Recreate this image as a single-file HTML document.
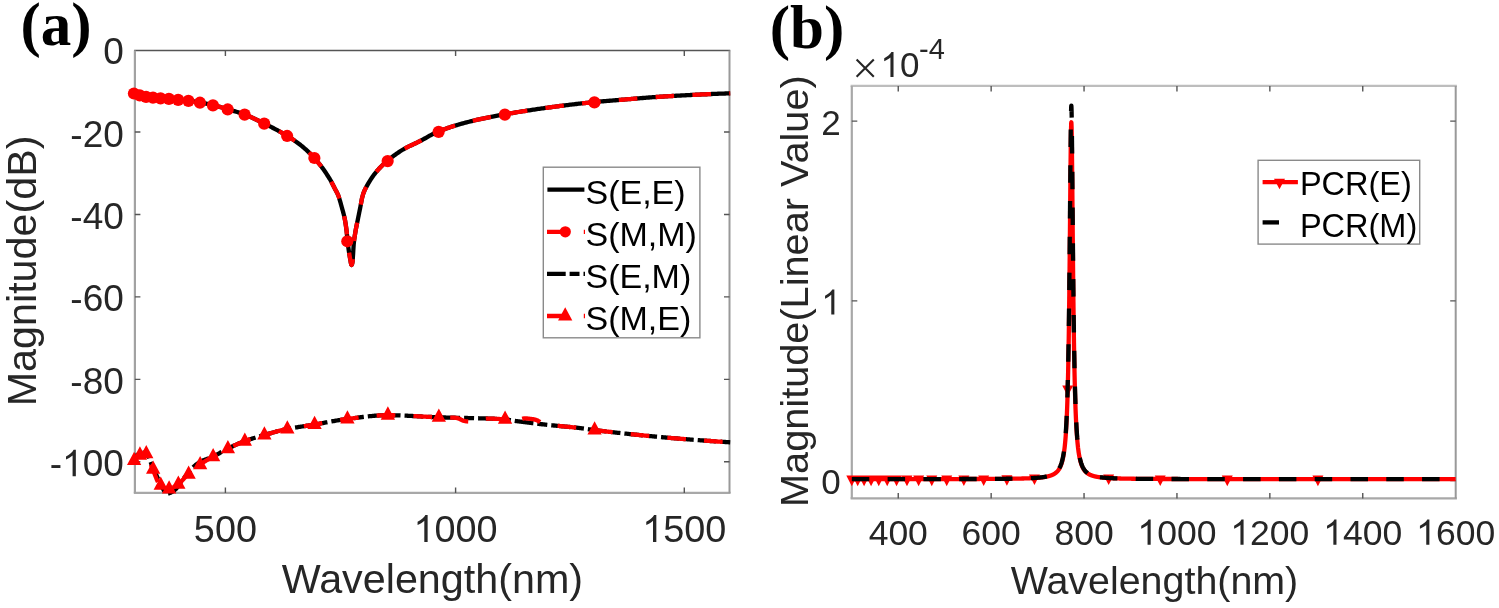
<!DOCTYPE html>
<html><head><meta charset="utf-8"><style>
html,body{margin:0;padding:0;background:#fff;}
body{width:1499px;height:608px;overflow:hidden;}
svg{display:block;will-change:transform;}
</style></head><body>
<svg width="1499" height="608" viewBox="0 0 1499 608">
<defs><clipPath id="ca"><rect x="130" y="47" width="603" height="449"/></clipPath><clipPath id="cb"><rect x="849" y="84" width="609" height="417"/></clipPath></defs>
<path d="M134.9,50.5H729.5" stroke="#555" stroke-width="1.5" stroke-linecap="square"/>
<path d="M134.9,492.9H729.5" stroke="#a8a8a8" stroke-width="2.2" stroke-linecap="square"/>
<path d="M134.9,50.5V492.9" stroke="#a2a2a2" stroke-width="2.2"/>
<path d="M729.5,50.5V492.9" stroke="#999" stroke-width="2.0"/>
<path d="M225.4,492.9v-5.5M225.4,50.5v5.5M455.6,492.9v-5.5M455.6,50.5v5.5M684.3,492.9v-5.5M684.3,50.5v5.5M134.9,132.03h5.5M729.5,132.03h-5.5M134.9,214.47h5.5M729.5,214.47h-5.5M134.9,296.9h5.5M729.5,296.9h-5.5M134.9,379.34h5.5M729.5,379.34h-5.5M134.9,461.77h5.5M729.5,461.77h-5.5" stroke="#555" stroke-width="1.4" fill="none"/>
<path d="M851.8,85.9H1455.7" stroke="#bdbdbd" stroke-width="2.4" stroke-linecap="square"/>
<path d="M851.8,498.4H1455.7" stroke="#a8a8a8" stroke-width="2.4" stroke-linecap="square"/>
<path d="M851.8,85.9V498.4" stroke="#a8a8a8" stroke-width="2.2"/>
<path d="M1455.7,85.9V498.4" stroke="#999" stroke-width="2.0"/>
<path d="M898.25,498.4v-5.5M898.25,85.9v5.5M991.15,498.4v-5.5M991.15,85.9v5.5M1084.05,498.4v-5.5M1084.05,85.9v5.5M1176.95,498.4v-5.5M1176.95,85.9v5.5M1269.85,498.4v-5.5M1269.85,85.9v5.5M1362.75,498.4v-5.5M1362.75,85.9v5.5M851.8,480.6h5.5M1455.7,480.6h-5.5M851.8,300.85h5.5M1455.7,300.85h-5.5M851.8,121.1h5.5M1455.7,121.1h-5.5" stroke="#555" stroke-width="1.4" fill="none"/>
<g clip-path="url(#ca)" fill="none" stroke-linejoin="round">
<path d="M133.6,93.2 L134.64,93.59 L135.67,93.96 L136.71,94.31 L137.75,94.64 L138.79,94.94 L139.82,95.22 L140.86,95.5 L141.9,95.76 L142.93,96.01 L143.97,96.23 L145.01,96.43 L146.05,96.61 L147.08,96.76 L148.12,96.89 L149.16,97.01 L150.19,97.12 L151.23,97.23 L152.27,97.33 L153.31,97.43 L154.34,97.53 L155.38,97.62 L156.42,97.71 L157.46,97.8 L158.49,97.88 L159.53,97.96 L160.57,98.04 L161.6,98.11 L162.64,98.18 L163.68,98.24 L164.72,98.3 L165.75,98.37 L166.79,98.44 L167.83,98.51 L168.86,98.59 L169.9,98.68 L170.94,98.78 L171.98,98.9 L173.01,99.02 L174.05,99.14 L175.09,99.27 L176.12,99.39 L177.16,99.51 L178.2,99.62 L179.24,99.72 L180.27,99.82 L181.31,99.91 L182.35,100 L183.38,100.09 L184.42,100.19 L185.46,100.29 L186.5,100.39 L187.53,100.5 L188.57,100.62 L189.61,100.75 L190.65,100.9 L191.68,101.05 L192.72,101.21 L193.76,101.38 L194.79,101.55 L195.83,101.73 L196.87,101.91 L197.91,102.1 L198.94,102.28 L199.98,102.47 L201.02,102.66 L202.05,102.85 L203.09,103.04 L204.13,103.24 L205.17,103.45 L206.2,103.65 L207.24,103.87 L208.28,104.08 L209.31,104.31 L210.35,104.53 L211.39,104.77 L212.43,105.01 L213.46,105.25 L214.5,105.51 L215.54,105.77 L216.57,106.05 L217.61,106.32 L218.65,106.61 L219.69,106.9 L220.72,107.19 L221.76,107.49 L222.8,107.79 L223.84,108.1 L224.87,108.4 L225.91,108.71 L226.95,109.01 L227.98,109.31 L229.02,109.61 L230.06,109.91 L231.1,110.21 L232.13,110.51 L233.17,110.81 L234.21,111.11 L235.24,111.41 L236.28,111.72 L237.32,112.04 L238.36,112.36 L239.39,112.69 L240.43,113.02 L241.47,113.37 L242.5,113.72 L243.54,114.09 L244.58,114.47 L245.62,114.86 L246.65,115.27 L247.69,115.69 L248.73,116.12 L249.76,116.57 L250.8,117.03 L251.84,117.49 L252.88,117.97 L253.91,118.45 L254.95,118.95 L255.99,119.45 L257.03,119.95 L258.06,120.46 L259.1,120.97 L260.14,121.48 L261.17,122 L262.21,122.51 L263.25,123.03 L264.29,123.54 L265.32,124.06 L266.36,124.57 L267.4,125.09 L268.43,125.61 L269.47,126.14 L270.51,126.66 L271.55,127.19 L272.58,127.73 L273.62,128.27 L274.66,128.81 L275.69,129.36 L276.73,129.92 L277.77,130.48 L278.81,131.04 L279.84,131.61 L280.88,132.19 L281.92,132.78 L282.95,133.37 L283.99,133.97 L285.03,134.58 L286.07,135.19 L287.1,135.82 L288.14,136.45 L289.18,137.1 L290.22,137.75 L291.25,138.41 L292.29,139.08 L293.33,139.77 L294.36,140.48 L295.4,141.19 L296.44,141.93 L297.48,142.68 L298.51,143.46 L299.55,144.25 L300.59,145.06 L301.62,145.9 L302.66,146.75 L303.7,147.62 L304.74,148.52 L305.77,149.44 L306.81,150.38 L307.85,151.34 L308.88,152.33 L309.92,153.34 L310.96,154.38 L312,155.45 L313.03,156.55 L314.07,157.68 L315.11,158.84 L316.14,160.03 L317.18,161.25 L318.22,162.51 L319.26,163.8 L320.29,165.13 L321.33,166.49 L322.37,167.89 L323.41,169.33 L324.44,170.8 L325.48,172.32 L326.52,173.87 L327.55,175.46 L328.59,177.09 L329.63,178.76 L330.67,180.52 L331.7,182.46 L332.74,184.51 L333.78,186.58 L334.81,188.59 L335.85,190.46 L336.89,192.37 L337.93,194.58 L338.96,197.38 L340,200.77 L340.18,201.42 L340.37,202.08 L340.55,202.74 L340.74,203.41 L340.92,204.09 L341.11,204.77 L341.29,205.45 L341.48,206.13 L341.66,206.8 L341.85,207.48 L342.03,208.14 L342.22,208.8 L342.4,209.46 L342.59,210.12 L342.77,210.78 L342.96,211.45 L343.14,212.13 L343.33,212.82 L343.51,213.53 L343.7,214.26 L343.88,215.01 L344.07,215.79 L344.25,216.6 L344.44,217.44 L344.62,218.31 L344.81,219.22 L344.99,220.18 L345.18,221.2 L345.36,222.29 L345.55,223.44 L345.73,224.65 L345.92,225.93 L346.1,227.26 L346.29,228.66 L346.47,230.11 L346.66,231.63 L346.84,233.28 L347.03,235.21 L347.21,237.26 L347.39,239.29 L347.58,241.12 L347.76,242.74 L347.95,244.28 L348.13,245.76 L348.32,247.18 L348.5,248.53 L348.69,249.84 L348.87,251.1 L349.06,252.32 L349.24,253.5 L349.43,254.64 L349.61,255.75 L349.8,256.82 L349.98,257.84 L350.17,258.83 L350.35,259.85 L350.54,260.97 L350.72,262.1 L350.91,263.16 L351.09,264.06 L351.28,264.7 L351.46,264.99 L351.65,264.92 L351.83,264.61 L352.02,264.09 L352.2,263.4 L352.39,262.57 L352.57,261.51 L352.76,259.35 L352.94,256.47 L353.13,253.61 L353.31,250.5 L353.5,247.26 L353.68,244.61 L353.87,242.72 L354.05,241.03 L354.24,239.51 L354.42,238.13 L354.61,236.86 L354.79,235.67 L354.97,234.54 L355.16,233.44 L355.34,232.34 L355.53,231.23 L355.71,230.16 L355.9,229.14 L356.08,228.15 L356.27,227.19 L356.45,226.26 L356.64,225.35 L356.82,224.45 L357.01,223.56 L357.19,222.67 L357.38,221.78 L357.56,220.88 L357.75,219.96 L357.93,219.03 L358.12,218.1 L358.3,217.18 L358.49,216.26 L358.67,215.34 L358.86,214.42 L359.04,213.51 L359.23,212.59 L359.41,211.68 L359.6,210.77 L359.78,209.86 L359.97,208.95 L360.15,208.03 L360.34,207.12 L360.52,206.18 L360.71,205.2 L360.89,204.2 L361.08,203.18 L361.26,202.17 L361.45,201.16 L361.63,200.17 L361.82,199.2 L362,198.28 L363.23,193.7 L364.46,190.62 L365.69,188.13 L366.93,185.87 L368.16,183.67 L369.39,181.58 L370.62,179.61 L371.85,177.75 L373.08,175.99 L374.31,174.33 L375.55,172.76 L376.78,171.27 L378.01,169.85 L379.24,168.5 L380.47,167.2 L381.7,165.96 L382.93,164.77 L384.17,163.62 L385.4,162.51 L386.63,161.44 L387.86,160.4 L389.09,159.38 L390.32,158.39 L391.55,157.42 L392.79,156.47 L394.02,155.55 L395.25,154.65 L396.48,153.77 L397.71,152.92 L398.94,152.1 L400.17,151.3 L401.41,150.52 L402.64,149.77 L403.87,149.04 L405.1,148.35 L406.33,147.69 L407.56,147.05 L408.79,146.44 L410.03,145.84 L411.26,145.25 L412.49,144.68 L413.72,144.11 L414.95,143.54 L416.18,142.96 L417.41,142.38 L418.65,141.78 L419.88,141.16 L421.11,140.52 L422.34,139.86 L423.57,139.18 L424.8,138.5 L426.03,137.8 L427.27,137.11 L428.5,136.41 L429.73,135.73 L430.96,135.05 L432.19,134.4 L433.42,133.76 L434.65,133.15 L435.89,132.57 L437.12,132.03 L438.35,131.52 L439.58,131.03 L440.81,130.55 L442.04,130.08 L443.27,129.62 L444.51,129.17 L445.74,128.72 L446.97,128.29 L448.2,127.86 L449.43,127.45 L450.66,127.04 L451.89,126.64 L453.13,126.24 L454.36,125.86 L455.59,125.48 L456.82,125.11 L458.05,124.74 L459.28,124.38 L460.52,124.03 L461.75,123.68 L462.98,123.34 L464.21,123.01 L465.44,122.68 L466.67,122.35 L467.9,122.03 L469.14,121.72 L470.37,121.41 L471.6,121.1 L472.83,120.8 L474.06,120.51 L475.29,120.22 L476.52,119.93 L477.76,119.65 L478.99,119.37 L480.22,119.09 L481.45,118.82 L482.68,118.56 L483.91,118.3 L485.14,118.04 L486.38,117.78 L487.61,117.53 L488.84,117.28 L490.07,117.04 L491.3,116.8 L492.53,116.56 L493.76,116.32 L495,116.09 L496.23,115.85 L497.46,115.62 L498.69,115.4 L499.92,115.17 L501.15,114.95 L502.38,114.73 L503.62,114.51 L504.85,114.29 L506.08,114.08 L507.31,113.86 L508.54,113.65 L509.77,113.44 L511,113.23 L512.24,113.02 L513.47,112.81 L514.7,112.61 L515.93,112.4 L517.16,112.2 L518.39,112 L519.62,111.8 L520.86,111.6 L522.09,111.41 L523.32,111.21 L524.55,111.02 L525.78,110.83 L527.01,110.64 L528.24,110.45 L529.48,110.26 L530.71,110.07 L531.94,109.89 L533.17,109.71 L534.4,109.52 L535.63,109.34 L536.86,109.16 L538.1,108.98 L539.33,108.81 L540.56,108.63 L541.79,108.46 L543.02,108.28 L544.25,108.11 L545.48,107.94 L546.72,107.77 L547.95,107.6 L549.18,107.43 L550.41,107.26 L551.64,107.1 L552.87,106.93 L554.1,106.77 L555.34,106.61 L556.57,106.45 L557.8,106.28 L559.03,106.12 L560.26,105.97 L561.49,105.81 L562.72,105.65 L563.96,105.5 L565.19,105.34 L566.42,105.19 L567.65,105.04 L568.88,104.88 L570.11,104.73 L571.34,104.58 L572.58,104.44 L573.81,104.29 L575.04,104.14 L576.27,104 L577.5,103.86 L578.73,103.72 L579.96,103.58 L581.2,103.44 L582.43,103.3 L583.66,103.17 L584.89,103.03 L586.12,102.9 L587.35,102.77 L588.58,102.64 L589.82,102.51 L591.05,102.39 L592.28,102.27 L593.51,102.14 L594.74,102.02 L595.97,101.91 L597.2,101.79 L598.44,101.68 L599.67,101.57 L600.9,101.46 L602.13,101.36 L603.36,101.25 L604.59,101.15 L605.82,101.05 L607.06,100.95 L608.29,100.85 L609.52,100.75 L610.75,100.65 L611.98,100.55 L613.21,100.45 L614.44,100.35 L615.68,100.25 L616.91,100.15 L618.14,100.05 L619.37,99.95 L620.6,99.85 L621.83,99.75 L623.06,99.64 L624.3,99.54 L625.53,99.44 L626.76,99.33 L627.99,99.23 L629.22,99.12 L630.45,99.02 L631.68,98.91 L632.92,98.81 L634.15,98.7 L635.38,98.6 L636.61,98.49 L637.84,98.39 L639.07,98.29 L640.31,98.19 L641.54,98.09 L642.77,97.99 L644,97.89 L645.23,97.79 L646.46,97.69 L647.69,97.6 L648.93,97.5 L650.16,97.41 L651.39,97.32 L652.62,97.23 L653.85,97.15 L655.08,97.06 L656.31,96.98 L657.55,96.9 L658.78,96.82 L660.01,96.74 L661.24,96.66 L662.47,96.58 L663.7,96.5 L664.93,96.43 L666.17,96.35 L667.4,96.28 L668.63,96.2 L669.86,96.13 L671.09,96.06 L672.32,95.98 L673.55,95.91 L674.79,95.84 L676.02,95.77 L677.25,95.7 L678.48,95.64 L679.71,95.57 L680.94,95.5 L682.17,95.44 L683.41,95.37 L684.64,95.31 L685.87,95.24 L687.1,95.18 L688.33,95.12 L689.56,95.06 L690.79,94.99 L692.03,94.93 L693.26,94.87 L694.49,94.81 L695.72,94.75 L696.95,94.69 L698.18,94.64 L699.41,94.58 L700.65,94.52 L701.88,94.46 L703.11,94.41 L704.34,94.35 L705.57,94.29 L706.8,94.24 L708.03,94.19 L709.27,94.13 L710.5,94.08 L711.73,94.02 L712.96,93.97 L714.19,93.92 L715.42,93.87 L716.65,93.82 L717.89,93.77 L719.12,93.72 L720.35,93.67 L721.58,93.62 L722.81,93.57 L724.04,93.53 L725.27,93.48 L726.51,93.43 L727.74,93.39 L728.97,93.34 L730.2,93.3" stroke="#000" stroke-width="4.3"/>
<path d="M133.6,459.5 L134.6,458.1 L135.59,456.79 L136.59,455.62 L137.58,454.65 L138.58,453.94 L139.58,453.55 L140.57,453.3 L141.57,453.07 L142.56,452.89 L143.56,452.74 L144.56,452.65 L145.55,452.6 L146.55,452.93 L147.54,454.25 L148.54,456.33 L149.54,458.89 L150.53,461.68 L151.53,464.42 L152.52,466.84 L153.52,468.98 L154.52,471.14 L155.51,473.33 L156.51,475.51 L157.5,477.67 L158.5,479.79 L159.5,481.87 L160.49,483.89 L161.49,485.99 L162.48,488.05 L163.48,489.8 L164.48,491.07 L165.47,492.23 L166.47,493.12 L167.46,493.5 L168.46,493.39 L169.46,493.09 L170.45,492.68 L171.45,492.22 L172.44,491.7 L173.44,491.03 L174.44,490.23 L175.43,489.34 L176.43,488.37 L177.42,487.26 L178.42,485.9 L179.42,484.38 L180.41,482.82 L181.41,481.32 L182.4,479.97 L183.4,478.7 L184.4,477.46 L185.39,476.25 L186.39,475.06 L187.38,473.88 L188.38,472.71 L189.38,471.51 L190.37,470.31 L191.37,469.13 L192.36,468.04 L193.36,467.05 L194.36,466.13 L195.35,465.24 L196.35,464.4 L197.34,463.62 L198.34,462.9 L199.34,462.27 L200.33,461.71 L201.33,461.21 L202.32,460.76 L203.32,460.34 L204.32,459.95 L205.31,459.58 L206.31,459.22 L207.3,458.87 L208.3,458.52 L209.3,458.16 L210.29,457.79 L211.29,457.39 L212.28,456.96 L213.28,456.5 L214.28,456.01 L215.27,455.49 L216.27,454.96 L217.26,454.41 L218.26,453.85 L219.26,453.29 L220.25,452.72 L221.25,452.14 L222.24,451.57 L223.24,451.01 L224.24,450.45 L225.23,449.91 L226.23,449.39 L227.22,448.89 L228.22,448.4 L229.22,447.92 L230.21,447.44 L231.21,446.96 L232.2,446.49 L233.2,446.02 L234.2,445.56 L235.19,445.1 L236.19,444.65 L237.18,444.21 L238.18,443.78 L239.18,443.35 L240.17,442.93 L241.17,442.52 L242.16,442.12 L243.16,441.74 L244.16,441.36 L245.15,440.99 L246.15,440.63 L247.14,440.28 L248.14,439.94 L249.14,439.6 L250.13,439.27 L251.13,438.94 L252.12,438.62 L253.12,438.3 L254.12,437.99 L255.11,437.69 L256.11,437.38 L257.1,437.08 L258.1,436.79 L259.1,436.49 L260.09,436.2 L261.09,435.91 L262.08,435.62 L263.08,435.34 L264.08,435.05 L265.07,434.76 L266.07,434.48 L267.06,434.19 L268.06,433.91 L269.06,433.62 L270.05,433.34 L271.05,433.06 L272.04,432.78 L273.04,432.5 L274.04,432.22 L275.03,431.95 L276.03,431.69 L277.02,431.42 L278.02,431.16 L279.02,430.91 L280.01,430.66 L281.01,430.41 L282,430.17 L283,429.94 L283.99,429.71 L284.99,429.49 L285.99,429.28 L286.98,429.07 L287.98,428.87 L288.97,428.68 L289.97,428.49 L290.97,428.31 L291.96,428.13 L292.96,427.95 L293.95,427.78 L294.95,427.61 L295.95,427.45 L296.94,427.28 L297.94,427.12 L298.93,426.97 L299.93,426.81 L300.93,426.66 L301.92,426.5 L302.92,426.35 L303.91,426.2 L304.91,426.05 L305.91,425.89 L306.9,425.74 L307.9,425.59 L308.89,425.43 L309.89,425.28 L310.89,425.12 L311.88,424.96 L312.88,424.8 L313.87,424.63 L314.87,424.47 L315.87,424.3 L316.86,424.12 L317.86,423.95 L318.85,423.77 L319.85,423.59 L320.85,423.41 L321.84,423.22 L322.84,423.04 L323.83,422.85 L324.83,422.67 L325.83,422.48 L326.82,422.3 L327.82,422.11 L328.81,421.93 L329.81,421.74 L330.81,421.56 L331.8,421.38 L332.8,421.2 L333.79,421.02 L334.79,420.85 L335.79,420.67 L336.78,420.5 L337.78,420.34 L338.77,420.17 L339.77,420.01 L340.77,419.86 L341.76,419.71 L342.76,419.56 L343.75,419.42 L344.75,419.28 L345.75,419.15 L346.74,419.02 L347.74,418.9 L348.73,418.78 L349.73,418.65 L350.73,418.53 L351.72,418.4 L352.72,418.27 L353.71,418.14 L354.71,418.01 L355.71,417.88 L356.7,417.76 L357.7,417.63 L358.69,417.5 L359.69,417.37 L360.69,417.25 L361.68,417.13 L362.68,417 L363.67,416.88 L364.67,416.77 L365.67,416.65 L366.66,416.54 L367.66,416.43 L368.65,416.32 L369.65,416.22 L370.65,416.12 L371.64,416.02 L372.64,415.93 L373.63,415.84 L374.63,415.76 L375.63,415.68 L376.62,415.61 L377.62,415.54 L378.61,415.48 L379.61,415.42 L380.61,415.37 L381.6,415.32 L382.6,415.29 L383.59,415.25 L384.59,415.23 L385.59,415.21 L386.58,415.2 L387.58,415.2 L388.57,415.2 L389.57,415.21 L390.57,415.22 L391.56,415.23 L392.56,415.24 L393.55,415.26 L394.55,415.28 L395.55,415.31 L396.54,415.33 L397.54,415.36 L398.53,415.39 L399.53,415.42 L400.53,415.46 L401.52,415.5 L402.52,415.53 L403.51,415.58 L404.51,415.62 L405.51,415.66 L406.5,415.71 L407.5,415.75 L408.49,415.8 L409.49,415.85 L410.49,415.9 L411.48,415.95 L412.48,416.01 L413.47,416.06 L414.47,416.11 L415.47,416.17 L416.46,416.22 L417.46,416.28 L418.45,416.33 L419.45,416.39 L420.45,416.44 L421.44,416.5 L422.44,416.55 L423.43,416.6 L424.43,416.66 L425.43,416.71 L426.42,416.76 L427.42,416.82 L428.41,416.87 L429.41,416.92 L430.41,416.96 L431.4,417.01 L432.4,417.06 L433.39,417.1 L434.39,417.15 L435.39,417.19 L436.38,417.23 L437.38,417.27 L438.37,417.3 L439.37,417.34 L440.37,417.37 L441.36,417.4 L442.36,417.43 L443.35,417.46 L444.35,417.49 L445.35,417.52 L446.34,417.55 L447.34,417.57 L448.33,417.6 L449.33,417.62 L450.33,417.65 L451.32,417.67 L452.32,417.7 L453.31,417.72 L454.31,417.74 L455.31,417.76 L456.3,417.78 L457.3,417.8 L458.29,417.83 L459.29,417.85 L460.29,417.87 L461.28,417.89 L462.28,417.91 L463.27,417.93 L464.27,417.95 L465.27,417.97 L466.26,417.99 L467.26,418.01 L468.25,418.03 L469.25,418.05 L470.25,418.07 L471.24,418.09 L472.24,418.11 L473.23,418.13 L474.23,418.16 L475.23,418.18 L476.22,418.2 L477.22,418.23 L478.21,418.25 L479.21,418.28 L480.21,418.3 L481.2,418.33 L482.2,418.36 L483.19,418.39 L484.19,418.42 L485.19,418.45 L486.18,418.48 L487.18,418.51 L488.17,418.54 L489.17,418.58 L490.17,418.61 L491.16,418.65 L492.16,418.69 L493.15,418.73 L494.15,418.77 L495.15,418.81 L496.14,418.86 L497.14,418.91 L498.13,418.95 L499.13,419 L500.13,419.05 L501.12,419.1 L502.12,419.16 L503.11,419.21 L504.11,419.27 L505.11,419.34 L506.1,419.43 L507.1,419.55 L508.09,419.7 L509.09,419.86 L510.09,420.03 L511.08,420.21 L512.08,420.4 L513.07,420.58 L514.07,420.75 L515.07,420.91 L516.06,421.05 L517.06,421.19 L518.05,421.32 L519.05,421.45 L520.05,421.59 L521.04,421.72 L522.04,421.85 L523.03,421.98 L524.03,422.1 L525.03,422.23 L526.02,422.36 L527.02,422.48 L528.01,422.61 L529.01,422.73 L530.01,422.85 L531,422.97 L532,423.09 L532.99,423.21 L533.99,423.33 L534.99,423.44 L535.98,423.56 L536.98,423.68 L537.97,423.79 L538.97,423.91 L539.97,424.02 L540.96,424.13 L541.96,424.24 L542.95,424.35 L543.95,424.47 L544.95,424.58 L545.94,424.68 L546.94,424.79 L547.93,424.9 L548.93,425.01 L549.93,425.11 L550.92,425.21 L551.92,425.31 L552.91,425.41 L553.91,425.5 L554.91,425.6 L555.9,425.69 L556.9,425.79 L557.89,425.88 L558.89,425.97 L559.89,426.07 L560.88,426.16 L561.88,426.25 L562.87,426.34 L563.87,426.43 L564.87,426.52 L565.86,426.62 L566.86,426.71 L567.85,426.8 L568.85,426.9 L569.85,427 L570.84,427.09 L571.84,427.19 L572.83,427.3 L573.83,427.4 L574.83,427.5 L575.82,427.61 L576.82,427.72 L577.81,427.83 L578.81,427.95 L579.81,428.07 L580.8,428.19 L581.8,428.32 L582.79,428.45 L583.79,428.59 L584.78,428.73 L585.78,428.87 L586.78,429.01 L587.77,429.15 L588.77,429.29 L589.76,429.42 L590.76,429.56 L591.76,429.7 L592.75,429.83 L593.75,429.96 L594.74,430.08 L595.74,430.2 L596.74,430.33 L597.73,430.45 L598.73,430.57 L599.72,430.69 L600.72,430.81 L601.72,430.93 L602.71,431.05 L603.71,431.17 L604.7,431.29 L605.7,431.41 L606.7,431.52 L607.69,431.64 L608.69,431.75 L609.68,431.87 L610.68,431.98 L611.68,432.1 L612.67,432.21 L613.67,432.32 L614.66,432.43 L615.66,432.55 L616.66,432.66 L617.65,432.77 L618.65,432.88 L619.64,432.98 L620.64,433.09 L621.64,433.2 L622.63,433.31 L623.63,433.41 L624.62,433.52 L625.62,433.62 L626.62,433.73 L627.61,433.83 L628.61,433.94 L629.6,434.04 L630.6,434.14 L631.6,434.25 L632.59,434.35 L633.59,434.45 L634.58,434.55 L635.58,434.66 L636.58,434.76 L637.57,434.86 L638.57,434.96 L639.56,435.06 L640.56,435.16 L641.56,435.26 L642.55,435.36 L643.55,435.46 L644.54,435.56 L645.54,435.65 L646.54,435.75 L647.53,435.85 L648.53,435.94 L649.52,436.04 L650.52,436.14 L651.52,436.23 L652.51,436.33 L653.51,436.42 L654.5,436.51 L655.5,436.61 L656.5,436.7 L657.49,436.79 L658.49,436.88 L659.48,436.97 L660.48,437.06 L661.48,437.15 L662.47,437.24 L663.47,437.33 L664.46,437.42 L665.46,437.51 L666.46,437.59 L667.45,437.68 L668.45,437.77 L669.44,437.85 L670.44,437.94 L671.44,438.02 L672.43,438.1 L673.43,438.19 L674.42,438.27 L675.42,438.35 L676.42,438.43 L677.41,438.51 L678.41,438.59 L679.4,438.67 L680.4,438.75 L681.4,438.84 L682.39,438.92 L683.39,438.99 L684.38,439.07 L685.38,439.15 L686.38,439.23 L687.37,439.31 L688.37,439.39 L689.36,439.47 L690.36,439.54 L691.36,439.62 L692.35,439.7 L693.35,439.77 L694.34,439.85 L695.34,439.92 L696.34,440 L697.33,440.07 L698.33,440.15 L699.32,440.22 L700.32,440.29 L701.32,440.37 L702.31,440.44 L703.31,440.51 L704.3,440.59 L705.3,440.66 L706.3,440.73 L707.29,440.8 L708.29,440.87 L709.28,440.94 L710.28,441.01 L711.28,441.08 L712.27,441.15 L713.27,441.21 L714.26,441.28 L715.26,441.35 L716.26,441.42 L717.25,441.48 L718.25,441.55 L719.24,441.61 L720.24,441.68 L721.24,441.74 L722.23,441.81 L723.23,441.87 L724.22,441.93 L725.22,442 L726.22,442.06 L727.21,442.12 L728.21,442.18 L729.2,442.24 L730.2,442.3" stroke="#000" stroke-width="4.3" stroke-dasharray="18.8 4 10 4" stroke-dashoffset="11.09"/>
<path d="M133.6,93.2 L134.64,93.59 L135.67,93.96 L136.71,94.31 L137.75,94.64 L138.79,94.94 L139.82,95.22 L140.86,95.5 L141.9,95.76 L142.93,96.01 L143.97,96.23 L145.01,96.43 L146.05,96.61 L147.08,96.76 L148.12,96.89 L149.16,97.01 L150.19,97.12 L151.23,97.23 L152.27,97.33 L153.31,97.43 L154.34,97.53 L155.38,97.62 L156.42,97.71 L157.46,97.8 L158.49,97.88 L159.53,97.96 L160.57,98.04 L161.6,98.11 L162.64,98.18 L163.68,98.24 L164.72,98.3 L165.75,98.37 L166.79,98.44 L167.83,98.51 L168.86,98.59 L169.9,98.68 L170.94,98.78 L171.98,98.9 L173.01,99.02 L174.05,99.14 L175.09,99.27 L176.12,99.39 L177.16,99.51 L178.2,99.62 L179.24,99.72 L180.27,99.82 L181.31,99.91 L182.35,100 L183.38,100.09 L184.42,100.19 L185.46,100.29 L186.5,100.39 L187.53,100.5 L188.57,100.62 L189.61,100.75 L190.65,100.9 L191.68,101.05 L192.72,101.21 L193.76,101.38 L194.79,101.55 L195.83,101.73 L196.87,101.91 L197.91,102.1 L198.94,102.28 L199.98,102.47 L201.02,102.66 L202.05,102.85 L203.09,103.04 L204.13,103.24 L205.17,103.45 L206.2,103.65 L207.24,103.87 L208.28,104.08 L209.31,104.31 L210.35,104.53 L211.39,104.77 L212.43,105.01 L213.46,105.25 L214.5,105.51 L215.54,105.77 L216.57,106.05 L217.61,106.32 L218.65,106.61 L219.69,106.9 L220.72,107.19 L221.76,107.49 L222.8,107.79 L223.84,108.1 L224.87,108.4 L225.91,108.71 L226.95,109.01 L227.98,109.31 L229.02,109.61 L230.06,109.91 L231.1,110.21 L232.13,110.51 L233.17,110.81 L234.21,111.11 L235.24,111.41 L236.28,111.72 L237.32,112.04 L238.36,112.36 L239.39,112.69 L240.43,113.02 L241.47,113.37 L242.5,113.72 L243.54,114.09 L244.58,114.47 L245.62,114.86 L246.65,115.27 L247.69,115.69 L248.73,116.12 L249.76,116.57 L250.8,117.03 L251.84,117.49 L252.88,117.97 L253.91,118.45 L254.95,118.95 L255.99,119.45 L257.03,119.95 L258.06,120.46 L259.1,120.97 L260.14,121.48 L261.17,122 L262.21,122.51 L263.25,123.03 L264.29,123.54 L265.32,124.06 L266.36,124.57 L267.4,125.09 L268.43,125.61 L269.47,126.14 L270.51,126.66 L271.55,127.19 L272.58,127.73 L273.62,128.27 L274.66,128.81 L275.69,129.36 L276.73,129.92 L277.77,130.48 L278.81,131.04 L279.84,131.61 L280.88,132.19 L281.92,132.78 L282.95,133.37 L283.99,133.97 L285.03,134.58 L286.07,135.19 L287.1,135.82 L288.14,136.45 L289.18,137.1 L290.22,137.75 L291.25,138.41 L292.29,139.08 L293.33,139.77 L294.36,140.48 L295.4,141.19 L296.44,141.93 L297.48,142.68 L298.51,143.46 L299.55,144.25 L300.59,145.06 L301.62,145.9 L302.66,146.75 L303.7,147.62 L304.74,148.52 L305.77,149.44 L306.81,150.38 L307.85,151.34 L308.88,152.33 L309.92,153.34 L310.96,154.38 L312,155.45 L313.03,156.55 L314.07,157.68 L315.11,158.84 L316.14,160.03 L317.18,161.25 L318.22,162.51 L319.26,163.8 L320.29,165.13 L321.33,166.49 L322.37,167.89 L323.41,169.33 L324.44,170.8 L325.48,172.32 L326.52,173.87 L327.55,175.46 L328.59,177.09 L329.63,178.76 L330.67,180.52 L331.7,182.46 L332.74,184.51 L333.78,186.58 L334.81,188.59 L335.85,190.46 L336.89,192.37 L337.93,194.58 L338.96,197.38 L340,200.77 L340.18,201.42 L340.37,202.08 L340.55,202.74 L340.74,203.41 L340.92,204.09 L341.11,204.77 L341.29,205.45 L341.48,206.13 L341.66,206.8 L341.85,207.48 L342.03,208.14 L342.22,208.8 L342.4,209.46 L342.59,210.12 L342.77,210.78 L342.96,211.45 L343.14,212.13 L343.33,212.82 L343.51,213.53 L343.7,214.26 L343.88,215.01 L344.07,215.79 L344.25,216.6 L344.44,217.44 L344.62,218.31 L344.81,219.22 L344.99,220.18 L345.18,221.2 L345.36,222.29 L345.55,223.44 L345.73,224.65 L345.92,225.93 L346.1,227.26 L346.29,228.66 L346.47,230.11 L346.66,231.63 L346.84,233.28 L347.03,235.21 L347.21,237.26 L347.39,239.29 L347.58,241.12 L347.76,242.74 L347.95,244.28 L348.13,245.76 L348.32,247.18 L348.5,248.53 L348.69,249.84 L348.87,251.1 L349.06,252.32 L349.24,253.5 L349.43,254.64 L349.61,255.75 L349.8,256.82 L349.98,257.84 L350.17,258.83 L350.35,259.85 L350.54,260.97 L350.72,262.1 L350.91,263.16 L351.09,264.06 L351.28,264.7 L351.46,264.99 L351.65,264.92 L351.83,264.61 L352.02,264.09 L352.2,263.4 L352.39,262.57 L352.57,261.51 L352.76,259.35 L352.94,256.47 L353.13,253.61 L353.31,250.5 L353.5,247.26 L353.68,244.61 L353.87,242.72 L354.05,241.03 L354.24,239.51 L354.42,238.13 L354.61,236.86 L354.79,235.67 L354.97,234.54 L355.16,233.44 L355.34,232.34 L355.53,231.23 L355.71,230.16 L355.9,229.14 L356.08,228.15 L356.27,227.19 L356.45,226.26 L356.64,225.35 L356.82,224.45 L357.01,223.56 L357.19,222.67 L357.38,221.78 L357.56,220.88 L357.75,219.96 L357.93,219.03 L358.12,218.1 L358.3,217.18 L358.49,216.26 L358.67,215.34 L358.86,214.42 L359.04,213.51 L359.23,212.59 L359.41,211.68 L359.6,210.77 L359.78,209.86 L359.97,208.95 L360.15,208.03 L360.34,207.12 L360.52,206.18 L360.71,205.2 L360.89,204.2 L361.08,203.18 L361.26,202.17 L361.45,201.16 L361.63,200.17 L361.82,199.2 L362,198.28 L363.23,193.7 L364.46,190.62 L365.69,188.13 L366.93,185.87 L368.16,183.67 L369.39,181.58 L370.62,179.61 L371.85,177.75 L373.08,175.99 L374.31,174.33 L375.55,172.76 L376.78,171.27 L378.01,169.85 L379.24,168.5 L380.47,167.2 L381.7,165.96 L382.93,164.77 L384.17,163.62 L385.4,162.51 L386.63,161.44 L387.86,160.4 L389.09,159.38 L390.32,158.39 L391.55,157.42 L392.79,156.47 L394.02,155.55 L395.25,154.65 L396.48,153.77 L397.71,152.92 L398.94,152.1 L400.17,151.3 L401.41,150.52 L402.64,149.77 L403.87,149.04 L405.1,148.35 L406.33,147.69 L407.56,147.05 L408.79,146.44 L410.03,145.84 L411.26,145.25 L412.49,144.68 L413.72,144.11 L414.95,143.54 L416.18,142.96 L417.41,142.38 L418.65,141.78 L419.88,141.16 L421.11,140.52 L422.34,139.86 L423.57,139.18 L424.8,138.5 L426.03,137.8 L427.27,137.11 L428.5,136.41 L429.73,135.73 L430.96,135.05 L432.19,134.4 L433.42,133.76 L434.65,133.15 L435.89,132.57 L437.12,132.03 L438.35,131.52 L439.58,131.03 L440.81,130.55 L442.04,130.08 L443.27,129.62 L444.51,129.17 L445.74,128.72 L446.97,128.29 L448.2,127.86 L449.43,127.45 L450.66,127.04 L451.89,126.64 L453.13,126.24 L454.36,125.86 L455.59,125.48 L456.82,125.11 L458.05,124.74 L459.28,124.38 L460.52,124.03 L461.75,123.68 L462.98,123.34 L464.21,123.01 L465.44,122.68 L466.67,122.35 L467.9,122.03 L469.14,121.72 L470.37,121.41 L471.6,121.1 L472.83,120.8 L474.06,120.51 L475.29,120.22 L476.52,119.93 L477.76,119.65 L478.99,119.37 L480.22,119.09 L481.45,118.82 L482.68,118.56 L483.91,118.3 L485.14,118.04 L486.38,117.78 L487.61,117.53 L488.84,117.28 L490.07,117.04 L491.3,116.8 L492.53,116.56 L493.76,116.32 L495,116.09 L496.23,115.85 L497.46,115.62 L498.69,115.4 L499.92,115.17 L501.15,114.95 L502.38,114.73 L503.62,114.51 L504.85,114.29 L506.08,114.08 L507.31,113.86 L508.54,113.65 L509.77,113.44 L511,113.23 L512.24,113.02 L513.47,112.81 L514.7,112.61 L515.93,112.4 L517.16,112.2 L518.39,112 L519.62,111.8 L520.86,111.6 L522.09,111.41 L523.32,111.21 L524.55,111.02 L525.78,110.83 L527.01,110.64 L528.24,110.45 L529.48,110.26 L530.71,110.07 L531.94,109.89 L533.17,109.71 L534.4,109.52 L535.63,109.34 L536.86,109.16 L538.1,108.98 L539.33,108.81 L540.56,108.63 L541.79,108.46 L543.02,108.28 L544.25,108.11 L545.48,107.94 L546.72,107.77 L547.95,107.6 L549.18,107.43 L550.41,107.26 L551.64,107.1 L552.87,106.93 L554.1,106.77 L555.34,106.61 L556.57,106.45 L557.8,106.28 L559.03,106.12 L560.26,105.97 L561.49,105.81 L562.72,105.65 L563.96,105.5 L565.19,105.34 L566.42,105.19 L567.65,105.04 L568.88,104.88 L570.11,104.73 L571.34,104.58 L572.58,104.44 L573.81,104.29 L575.04,104.14 L576.27,104 L577.5,103.86 L578.73,103.72 L579.96,103.58 L581.2,103.44 L582.43,103.3 L583.66,103.17 L584.89,103.03 L586.12,102.9 L587.35,102.77 L588.58,102.64 L589.82,102.51 L591.05,102.39 L592.28,102.27 L593.51,102.14 L594.74,102.02 L595.97,101.91 L597.2,101.79 L598.44,101.68 L599.67,101.57 L600.9,101.46 L602.13,101.36 L603.36,101.25 L604.59,101.15 L605.82,101.05 L607.06,100.95 L608.29,100.85 L609.52,100.75 L610.75,100.65 L611.98,100.55 L613.21,100.45 L614.44,100.35 L615.68,100.25 L616.91,100.15 L618.14,100.05 L619.37,99.95 L620.6,99.85 L621.83,99.75 L623.06,99.64 L624.3,99.54 L625.53,99.44 L626.76,99.33 L627.99,99.23 L629.22,99.12 L630.45,99.02 L631.68,98.91 L632.92,98.81 L634.15,98.7 L635.38,98.6 L636.61,98.49 L637.84,98.39 L639.07,98.29 L640.31,98.19 L641.54,98.09 L642.77,97.99 L644,97.89 L645.23,97.79 L646.46,97.69 L647.69,97.6 L648.93,97.5 L650.16,97.41 L651.39,97.32 L652.62,97.23 L653.85,97.15 L655.08,97.06 L656.31,96.98 L657.55,96.9 L658.78,96.82 L660.01,96.74 L661.24,96.66 L662.47,96.58 L663.7,96.5 L664.93,96.43 L666.17,96.35 L667.4,96.28 L668.63,96.2 L669.86,96.13 L671.09,96.06 L672.32,95.98 L673.55,95.91 L674.79,95.84 L676.02,95.77 L677.25,95.7 L678.48,95.64 L679.71,95.57 L680.94,95.5 L682.17,95.44 L683.41,95.37 L684.64,95.31 L685.87,95.24 L687.1,95.18 L688.33,95.12 L689.56,95.06 L690.79,94.99 L692.03,94.93 L693.26,94.87 L694.49,94.81 L695.72,94.75 L696.95,94.69 L698.18,94.64 L699.41,94.58 L700.65,94.52 L701.88,94.46 L703.11,94.41 L704.34,94.35 L705.57,94.29 L706.8,94.24 L708.03,94.19 L709.27,94.13 L710.5,94.08 L711.73,94.02 L712.96,93.97 L714.19,93.92 L715.42,93.87 L716.65,93.82 L717.89,93.77 L719.12,93.72 L720.35,93.67 L721.58,93.62 L722.81,93.57 L724.04,93.53 L725.27,93.48 L726.51,93.43 L727.74,93.39 L728.97,93.34 L730.2,93.3" stroke="#f00" stroke-width="4.3" stroke-dasharray="18.6 18.3" stroke-dashoffset="32.73"/>
<path d="M133.6,460.52 L134.6,459.31 L135.59,458.17 L136.59,457.15 L137.58,456.28 L138.58,455.6 L139.58,455.15 L140.57,454.81 L141.57,454.49 L142.56,454.22 L143.56,454.01 L144.56,453.87 L145.55,453.8 L146.55,454.19 L147.54,455.62 L148.54,457.85 L149.54,460.59 L150.53,463.55 L151.53,466.44 L152.52,468.97 L153.52,471.25 L154.52,473.73 L155.51,476.29 L156.51,478.78 L157.5,481.08 L158.5,483.05 L159.5,484.55 L160.49,485.48 L161.49,486.19 L162.48,486.84 L163.48,487.43 L164.48,487.95 L165.47,488.37 L166.47,488.7 L167.46,488.91 L168.46,489 L169.46,488.93 L170.45,488.71 L171.45,488.34 L172.44,487.86 L173.44,487.28 L174.44,486.64 L175.43,485.96 L176.43,485.27 L177.42,484.58 L178.42,483.89 L179.42,483.1 L180.41,482.21 L181.41,481.24 L182.4,480.21 L183.4,479.15 L184.4,478.07 L185.39,477.01 L186.39,475.97 L187.38,474.99 L188.38,474.07 L189.38,473.19 L190.37,472.31 L191.37,471.43 L192.36,470.57 L193.36,469.72 L194.36,468.89 L195.35,468.07 L196.35,467.28 L197.34,466.5 L198.34,465.75 L199.34,465.02 L200.33,464.32 L201.33,463.64 L202.32,462.98 L203.32,462.34 L204.32,461.71 L205.31,461.09 L206.31,460.49 L207.3,459.9 L208.3,459.31 L209.3,458.73 L210.29,458.15 L211.29,457.58 L212.28,457 L213.28,456.43 L214.28,455.86 L215.27,455.29 L216.27,454.72 L217.26,454.16 L218.26,453.61 L219.26,453.06 L220.25,452.51 L221.25,451.97 L222.24,451.44 L223.24,450.91 L224.24,450.39 L225.23,449.88 L226.23,449.38 L227.22,448.89 L228.22,448.4 L229.22,447.92 L230.21,447.44 L231.21,446.96 L232.2,446.49 L233.2,446.02 L234.2,445.56 L235.19,445.1 L236.19,444.65 L237.18,444.21 L238.18,443.78 L239.18,443.35 L240.17,442.93 L241.17,442.52 L242.16,442.12 L243.16,441.74 L244.16,441.36 L245.15,440.99 L246.15,440.63 L247.14,440.28 L248.14,439.94 L249.14,439.6 L250.13,439.27 L251.13,438.94 L252.12,438.62 L253.12,438.3 L254.12,437.99 L255.11,437.69 L256.11,437.38 L257.1,437.08 L258.1,436.79 L259.1,436.49 L260.09,436.2 L261.09,435.91 L262.08,435.62 L263.08,435.34 L264.08,435.05 L265.07,434.76 L266.07,434.48 L267.06,434.19 L268.06,433.91 L269.06,433.62 L270.05,433.34 L271.05,433.06 L272.04,432.78 L273.04,432.5 L274.04,432.22 L275.03,431.95 L276.03,431.69 L277.02,431.42 L278.02,431.16 L279.02,430.91 L280.01,430.66 L281.01,430.41 L282,430.17 L283,429.94 L283.99,429.71 L284.99,429.49 L285.99,429.28 L286.98,429.07 L287.98,428.87 L288.97,428.68 L289.97,428.49 L290.97,428.31 L291.96,428.13 L292.96,427.95 L293.95,427.78 L294.95,427.61 L295.95,427.45 L296.94,427.28 L297.94,427.12 L298.93,426.97 L299.93,426.81 L300.93,426.66 L301.92,426.5 L302.92,426.35 L303.91,426.2 L304.91,426.05 L305.91,425.89 L306.9,425.74 L307.9,425.59 L308.89,425.43 L309.89,425.28 L310.89,425.12 L311.88,424.96 L312.88,424.8 L313.87,424.63 L314.87,424.47 L315.87,424.3 L316.86,424.12 L317.86,423.95 L318.85,423.77 L319.85,423.59 L320.85,423.41 L321.84,423.22 L322.84,423.04 L323.83,422.85 L324.83,422.67 L325.83,422.48 L326.82,422.3 L327.82,422.11 L328.81,421.93 L329.81,421.74 L330.81,421.56 L331.8,421.38 L332.8,421.2 L333.79,421.02 L334.79,420.85 L335.79,420.67 L336.78,420.5 L337.78,420.34 L338.77,420.17 L339.77,420.01 L340.77,419.86 L341.76,419.71 L342.76,419.56 L343.75,419.42 L344.75,419.28 L345.75,419.15 L346.74,419.02 L347.74,418.9 L348.73,418.78 L349.73,418.65 L350.73,418.53 L351.72,418.4 L352.72,418.27 L353.71,418.14 L354.71,418.01 L355.71,417.88 L356.7,417.76 L357.7,417.63 L358.69,417.5 L359.69,417.37 L360.69,417.25 L361.68,417.13 L362.68,417 L363.67,416.88 L364.67,416.77 L365.67,416.65 L366.66,416.54 L367.66,416.43 L368.65,416.32 L369.65,416.22 L370.65,416.12 L371.64,416.02 L372.64,415.93 L373.63,415.84 L374.63,415.76 L375.63,415.68 L376.62,415.61 L377.62,415.54 L378.61,415.48 L379.61,415.42 L380.61,415.37 L381.6,415.32 L382.6,415.29 L383.59,415.25 L384.59,415.23 L385.59,415.21 L386.58,415.2 L387.58,415.2 L388.57,415.2 L389.57,415.21 L390.57,415.22 L391.56,415.23 L392.56,415.24 L393.55,415.26 L394.55,415.28 L395.55,415.31 L396.54,415.33 L397.54,415.36 L398.53,415.39 L399.53,415.42 L400.53,415.46 L401.52,415.5 L402.52,415.53 L403.51,415.58 L404.51,415.62 L405.51,415.66 L406.5,415.71 L407.5,415.75 L408.49,415.8 L409.49,415.85 L410.49,415.9 L411.48,415.95 L412.48,416.01 L413.47,416.06 L414.47,416.11 L415.47,416.17 L416.46,416.22 L417.46,416.28 L418.45,416.33 L419.45,416.39 L420.45,416.44 L421.44,416.5 L422.44,416.55 L423.43,416.6 L424.43,416.66 L425.43,416.71 L426.42,416.76 L427.42,416.82 L428.41,416.87 L429.41,416.92 L430.41,416.96 L431.4,417.01 L432.4,417.06 L433.39,417.1 L434.39,417.15 L435.39,417.19 L436.38,417.23 L437.38,417.27 L438.37,417.3 L439.37,417.34 L440.37,417.37 L441.36,417.4 L442.36,417.43 L443.35,417.46 L444.35,417.49 L445.35,417.52 L446.34,417.55 L447.34,417.57 L448.33,417.6 L449.33,417.62 L450.33,417.65 L451.32,417.67 L452.32,417.7 L453.31,417.72 L454.31,417.76 L455.31,417.82 L456.3,417.93 L457.3,418.12 L458.29,418.42 L459.29,418.81 L460.29,419.29 L461.28,419.79 L462.28,420.26 L463.27,420.67 L464.27,420.99 L465.27,421.22 L466.26,421.37 L467.26,421.46 L468.25,421.51 L469.25,421.55 L470.25,421.57 L471.24,421.59 L472.24,421.61 L473.23,421.63 L474.23,421.63 L475.23,421.6 L476.22,421.53 L477.22,421.39 L478.21,421.16 L479.21,420.84 L480.21,420.45 L481.2,420 L482.2,419.55 L483.19,419.16 L484.19,418.86 L485.19,418.67 L486.18,418.57 L487.18,418.54 L488.17,418.55 L489.17,418.58 L490.17,418.62 L491.16,418.65 L492.16,418.69 L493.15,418.73 L494.15,418.77 L495.15,418.81 L496.14,418.86 L497.14,418.91 L498.13,418.95 L499.13,419 L500.13,419.05 L501.12,419.1 L502.12,419.16 L503.11,419.21 L504.11,419.27 L505.11,419.34 L506.1,419.43 L507.1,419.55 L508.09,419.7 L509.09,419.86 L510.09,420.03 L511.08,420.21 L512.08,420.39 L513.07,420.56 L514.07,420.7 L515.07,420.77 L516.06,420.75 L517.06,420.6 L518.05,420.33 L519.05,419.96 L520.05,419.54 L521.04,419.14 L522.04,418.81 L523.03,418.57 L524.03,418.44 L525.03,418.4 L526.02,418.43 L527.02,418.5 L528.01,418.61 L529.01,418.73 L530.01,418.85 L531,418.97 L532,419.09 L532.99,419.23 L533.99,419.4 L534.99,419.61 L535.98,419.9 L536.98,420.27 L537.97,420.76 L538.97,421.33 L539.97,421.98 L540.96,422.64 L541.96,423.25 L542.95,423.77 L543.95,424.16 L544.95,424.44 L545.94,424.64 L546.94,424.78 L547.93,424.9 L548.93,425.01 L549.93,425.11 L550.92,425.21 L551.92,425.31 L552.91,425.41 L553.91,425.5 L554.91,425.6 L555.9,425.69 L556.9,425.79 L557.89,425.88 L558.89,425.97 L559.89,426.07 L560.88,426.16 L561.88,426.25 L562.87,426.34 L563.87,426.43 L564.87,426.52 L565.86,426.62 L566.86,426.71 L567.85,426.8 L568.85,426.9 L569.85,427 L570.84,427.09 L571.84,427.19 L572.83,427.3 L573.83,427.4 L574.83,427.5 L575.82,427.61 L576.82,427.72 L577.81,427.83 L578.81,427.95 L579.81,428.07 L580.8,428.19 L581.8,428.32 L582.79,428.45 L583.79,428.59 L584.78,428.73 L585.78,428.87 L586.78,429.01 L587.77,429.15 L588.77,429.29 L589.76,429.42 L590.76,429.56 L591.76,429.7 L592.75,429.83 L593.75,429.96 L594.74,430.08 L595.74,430.2 L596.74,430.33 L597.73,430.45 L598.73,430.57 L599.72,430.69 L600.72,430.81 L601.72,430.93 L602.71,431.05 L603.71,431.17 L604.7,431.29 L605.7,431.41 L606.7,431.52 L607.69,431.64 L608.69,431.75 L609.68,431.87 L610.68,431.98 L611.68,432.1 L612.67,432.21 L613.67,432.32 L614.66,432.43 L615.66,432.55 L616.66,432.66 L617.65,432.77 L618.65,432.88 L619.64,432.98 L620.64,433.09 L621.64,433.2 L622.63,433.31 L623.63,433.41 L624.62,433.52 L625.62,433.62 L626.62,433.73 L627.61,433.83 L628.61,433.94 L629.6,434.04 L630.6,434.14 L631.6,434.25 L632.59,434.35 L633.59,434.45 L634.58,434.55 L635.58,434.66 L636.58,434.76 L637.57,434.86 L638.57,434.96 L639.56,435.06 L640.56,435.16 L641.56,435.26 L642.55,435.36 L643.55,435.46 L644.54,435.56 L645.54,435.65 L646.54,435.75 L647.53,435.85 L648.53,435.94 L649.52,436.04 L650.52,436.14 L651.52,436.23 L652.51,436.33 L653.51,436.42 L654.5,436.51 L655.5,436.61 L656.5,436.7 L657.49,436.79 L658.49,436.88 L659.48,436.97 L660.48,437.06 L661.48,437.15 L662.47,437.24 L663.47,437.33 L664.46,437.42 L665.46,437.51 L666.46,437.59 L667.45,437.68 L668.45,437.77 L669.44,437.85 L670.44,437.94 L671.44,438.02 L672.43,438.1 L673.43,438.19 L674.42,438.27 L675.42,438.35 L676.42,438.43 L677.41,438.51 L678.41,438.59 L679.4,438.67 L680.4,438.75 L681.4,438.84 L682.39,438.92 L683.39,438.99 L684.38,439.07 L685.38,439.15 L686.38,439.23 L687.37,439.31 L688.37,439.39 L689.36,439.47 L690.36,439.54 L691.36,439.62 L692.35,439.7 L693.35,439.77 L694.34,439.85 L695.34,439.92 L696.34,440 L697.33,440.07 L698.33,440.15 L699.32,440.22 L700.32,440.29 L701.32,440.37 L702.31,440.44 L703.31,440.51 L704.3,440.59 L705.3,440.66 L706.3,440.73 L707.29,440.8 L708.29,440.87 L709.28,440.94 L710.28,441.01 L711.28,441.08 L712.27,441.15 L713.27,441.21 L714.26,441.28 L715.26,441.35 L716.26,441.42 L717.25,441.48 L718.25,441.55 L719.24,441.61 L720.24,441.68 L721.24,441.74 L722.23,441.81 L723.23,441.87 L724.22,441.93 L725.22,442 L726.22,442.06 L727.21,442.12 L728.21,442.18 L729.2,442.24 L730.2,442.3" stroke="#f00" stroke-width="4.3" stroke-dasharray="18.7 18.1" stroke-dashoffset="10.1"/>
</g>
<g fill="#f00"><circle cx="133.92" cy="93.51" r="6.1"/><circle cx="139.73" cy="95.42" r="6.1"/><circle cx="146.06" cy="96.86" r="6.1"/><circle cx="152.97" cy="97.67" r="6.1"/><circle cx="160.55" cy="98.32" r="6.1"/><circle cx="168.9" cy="98.87" r="6.1"/><circle cx="178.14" cy="99.88" r="6.1"/><circle cx="188.43" cy="100.87" r="6.1"/><circle cx="199.95" cy="102.71" r="6.1"/><circle cx="212.94" cy="105.36" r="6.1"/><circle cx="227.7" cy="109.44" r="6.1"/><circle cx="244.62" cy="114.67" r="6.1"/><circle cx="264.2" cy="123.65" r="6.1"/><circle cx="287.14" cy="135.96" r="6.1"/><circle cx="314.38" cy="157.99" r="6.1"/><circle cx="347.3" cy="241.3" r="6.1"/><circle cx="387.68" cy="161.1" r="6.1"/><circle cx="438.64" cy="131.82" r="6.1"/><circle cx="504.87" cy="114.64" r="6.1"/><circle cx="594.4" cy="102.39" r="6.1"/></g>
<path d="M126.97,464.93L134.12,451.63L141.27,464.93ZM132.78,459.63L139.93,446.33L147.08,459.63ZM139.11,458.23L146.26,444.93L153.41,458.23ZM146.02,473.73L153.17,460.43L160.32,473.73ZM153.6,489.73L160.75,476.43L167.9,489.73ZM161.95,493.43L169.1,480.13L176.25,493.43ZM171.19,488.73L178.34,475.43L185.49,488.73ZM181.48,478.73L188.63,465.43L195.78,478.73ZM193,469.23L200.15,455.93L207.3,469.23ZM205.99,461.23L213.14,447.93L220.29,461.23ZM220.75,453.23L227.9,439.93L235.05,453.23ZM237.67,445.73L244.82,432.43L251.97,445.73ZM257.25,439.53L264.4,426.23L271.55,439.53ZM280.19,433.53L287.34,420.23L294.49,433.53ZM307.43,429.03L314.58,415.73L321.73,429.03ZM340.29,423.43L347.44,410.13L354.59,423.43ZM380.73,419.63L387.88,406.33L395.03,419.63ZM431.69,421.73L438.84,408.43L445.99,421.73ZM497.92,423.73L505.07,410.43L512.22,423.73ZM587.45,434.43L594.6,421.13L601.75,434.43Z" fill="#f00"/>
<g clip-path="url(#cb)" fill="none" stroke-linejoin="round">
<path d="M851.8,479.13 L852.66,479.13 L853.53,479.13 L854.39,479.13 L855.26,479.13 L856.12,479.13 L856.98,479.13 L857.85,479.13 L858.71,479.13 L859.57,479.13 L860.44,479.13 L861.3,479.13 L862.17,479.13 L863.03,479.13 L863.89,479.13 L864.76,479.13 L865.62,479.13 L866.49,479.12 L867.35,479.12 L868.21,479.12 L869.08,479.12 L869.94,479.12 L870.81,479.12 L871.67,479.12 L872.53,479.12 L873.4,479.12 L874.26,479.12 L875.12,479.12 L875.99,479.12 L876.85,479.12 L877.72,479.12 L878.58,479.12 L879.44,479.12 L880.31,479.12 L881.17,479.12 L882.04,479.12 L882.9,479.12 L883.76,479.12 L884.63,479.12 L885.49,479.12 L886.36,479.12 L887.22,479.12 L888.08,479.12 L888.95,479.12 L889.81,479.11 L890.67,479.11 L891.54,479.11 L892.4,479.11 L893.27,479.11 L894.13,479.11 L894.99,479.11 L895.86,479.11 L896.72,479.11 L897.59,479.11 L898.45,479.11 L899.31,479.11 L900.18,479.11 L901.04,479.11 L901.9,479.11 L902.77,479.11 L903.63,479.11 L904.5,479.11 L905.36,479.11 L906.22,479.1 L907.09,479.1 L907.95,479.1 L908.82,479.1 L909.68,479.1 L910.54,479.1 L911.41,479.1 L912.27,479.1 L913.14,479.1 L914,479.1 L914.86,479.1 L915.73,479.1 L916.59,479.1 L917.45,479.1 L918.32,479.1 L919.18,479.09 L920.05,479.09 L920.91,479.09 L921.77,479.09 L922.64,479.09 L923.5,479.09 L924.37,479.09 L925.23,479.09 L926.09,479.09 L926.96,479.09 L927.82,479.09 L928.69,479.09 L929.55,479.08 L930.41,479.08 L931.28,479.08 L932.14,479.08 L933,479.08 L933.87,479.08 L934.73,479.08 L935.6,479.08 L936.46,479.08 L937.32,479.08 L938.19,479.07 L939.05,479.07 L939.92,479.07 L940.78,479.07 L941.64,479.07 L942.51,479.07 L943.37,479.07 L944.23,479.07 L945.1,479.06 L945.96,479.06 L946.83,479.06 L947.69,479.06 L948.55,479.06 L949.42,479.06 L950.28,479.06 L951.15,479.05 L952.01,479.05 L952.87,479.05 L953.74,479.05 L954.6,479.05 L955.47,479.05 L956.33,479.04 L957.19,479.04 L958.06,479.04 L958.92,479.04 L959.78,479.04 L960.65,479.03 L961.51,479.03 L962.38,479.03 L963.24,479.03 L964.1,479.03 L964.97,479.02 L965.83,479.02 L966.7,479.02 L967.56,479.02 L968.42,479.01 L969.29,479.01 L970.15,479.01 L971.02,479.01 L971.88,479 L972.74,479 L973.61,479 L974.47,479 L975.33,478.99 L976.2,478.99 L977.06,478.99 L977.93,478.98 L978.79,478.98 L979.65,478.98 L980.52,478.97 L981.38,478.97 L982.25,478.97 L983.11,478.96 L983.97,478.96 L984.84,478.95 L985.7,478.95 L986.56,478.95 L987.43,478.94 L988.29,478.94 L989.16,478.93 L990.02,478.93 L990.88,478.92 L991.75,478.92 L992.61,478.91 L993.48,478.9 L994.34,478.9 L995.2,478.89 L996.07,478.89 L996.93,478.88 L997.8,478.87 L998.66,478.87 L999.52,478.86 L1000.39,478.85 L1001.25,478.84 L1002.11,478.84 L1002.98,478.83 L1003.84,478.82 L1004.71,478.81 L1005.57,478.8 L1006.43,478.79 L1007.3,478.78 L1008.16,478.77 L1009.03,478.76 L1009.89,478.75 L1010.75,478.74 L1011.62,478.73 L1012.48,478.71 L1013.34,478.7 L1014.21,478.68 L1015.07,478.67 L1015.94,478.65 L1016.8,478.64 L1017.66,478.62 L1018.53,478.6 L1019.39,478.58 L1020.26,478.57 L1021.12,478.54 L1021.98,478.52 L1022.85,478.5 L1023.71,478.48 L1024.58,478.45 L1025.44,478.42 L1026.3,478.39 L1027.17,478.36 L1028.03,478.33 L1028.89,478.3 L1029.76,478.26 L1030.62,478.22 L1031.49,478.18 L1032.35,478.14 L1033.21,478.09 L1034.08,478.04 L1034.94,477.99 L1035.81,477.93 L1036.67,477.87 L1037.53,477.8 L1037.6,477.8 L1037.74,477.79 L1037.88,477.77 L1038.02,477.76 L1038.16,477.75 L1038.3,477.74 L1038.4,477.73 L1038.44,477.73 L1038.58,477.71 L1038.72,477.7 L1038.86,477.69 L1039,477.68 L1039.14,477.66 L1039.26,477.65 L1039.28,477.65 L1039.42,477.64 L1039.55,477.62 L1039.69,477.61 L1039.83,477.6 L1039.97,477.58 L1040.11,477.57 L1040.13,477.57 L1040.25,477.55 L1040.39,477.54 L1040.53,477.53 L1040.67,477.51 L1040.81,477.5 L1040.95,477.48 L1040.99,477.48 L1041.09,477.46 L1041.23,477.45 L1041.37,477.43 L1041.51,477.42 L1041.65,477.4 L1041.79,477.38 L1041.85,477.38 L1041.93,477.37 L1042.07,477.35 L1042.21,477.33 L1042.35,477.31 L1042.49,477.3 L1042.63,477.28 L1042.72,477.27 L1042.77,477.26 L1042.91,477.24 L1043.05,477.22 L1043.19,477.2 L1043.32,477.18 L1043.46,477.16 L1043.58,477.15 L1043.6,477.14 L1043.74,477.12 L1043.88,477.1 L1044.02,477.08 L1044.16,477.06 L1044.3,477.04 L1044.44,477.02 L1044.44,477.02 L1044.58,477 L1044.72,476.97 L1044.86,476.95 L1045,476.93 L1045.14,476.9 L1045.28,476.88 L1045.31,476.87 L1045.42,476.85 L1045.56,476.83 L1045.7,476.8 L1045.84,476.78 L1045.98,476.75 L1046.12,476.72 L1046.17,476.71 L1046.26,476.7 L1046.4,476.67 L1046.54,476.64 L1046.68,476.61 L1046.82,476.59 L1046.96,476.56 L1047.04,476.54 L1047.09,476.53 L1047.23,476.5 L1047.37,476.46 L1047.51,476.43 L1047.65,476.4 L1047.79,476.37 L1047.9,476.34 L1047.93,476.34 L1048.07,476.3 L1048.21,476.27 L1048.35,476.23 L1048.49,476.2 L1048.63,476.16 L1048.76,476.12 L1048.77,476.12 L1048.91,476.09 L1049.05,476.05 L1049.19,476.01 L1049.33,475.97 L1049.47,475.93 L1049.61,475.89 L1049.63,475.88 L1049.75,475.84 L1049.89,475.8 L1050.03,475.76 L1050.17,475.71 L1050.31,475.67 L1050.45,475.62 L1050.49,475.61 L1050.59,475.57 L1050.73,475.52 L1050.86,475.48 L1051,475.43 L1051.14,475.37 L1051.28,475.32 L1051.36,475.29 L1051.42,475.27 L1051.56,475.21 L1051.7,475.16 L1051.84,475.1 L1051.98,475.04 L1052.12,474.98 L1052.22,474.94 L1052.26,474.92 L1052.4,474.86 L1052.54,474.8 L1052.68,474.73 L1052.82,474.67 L1052.96,474.6 L1053.08,474.54 L1053.1,474.53 L1053.24,474.46 L1053.38,474.39 L1053.52,474.31 L1053.66,474.24 L1053.8,474.16 L1053.94,474.08 L1053.95,474.07 L1054.08,474 L1054.22,473.91 L1054.36,473.83 L1054.5,473.74 L1054.63,473.65 L1054.77,473.56 L1054.81,473.53 L1054.91,473.46 L1055.05,473.37 L1055.19,473.27 L1055.33,473.17 L1055.47,473.06 L1055.61,472.96 L1055.67,472.91 L1055.75,472.85 L1055.89,472.73 L1056.03,472.62 L1056.17,472.5 L1056.31,472.38 L1056.45,472.25 L1056.54,472.17 L1056.59,472.12 L1056.73,471.99 L1056.87,471.85 L1057.01,471.71 L1057.15,471.57 L1057.29,471.42 L1057.4,471.29 L1057.43,471.27 L1057.57,471.11 L1057.71,470.95 L1057.85,470.78 L1057.99,470.61 L1058.13,470.43 L1058.27,470.25 L1058.27,470.25 L1058.4,470.06 L1058.54,469.86 L1058.68,469.66 L1058.82,469.45 L1058.96,469.24 L1059.1,469.02 L1059.13,468.97 L1059.24,468.79 L1059.38,468.55 L1059.52,468.31 L1059.66,468.05 L1059.8,467.79 L1059.94,467.52 L1059.99,467.41 L1060.08,467.24 L1060.22,466.95 L1060.36,466.65 L1060.5,466.33 L1060.64,466.01 L1060.78,465.67 L1060.86,465.47 L1060.92,465.32 L1061.06,464.96 L1061.2,464.58 L1061.34,464.18 L1061.48,463.78 L1061.62,463.35 L1061.72,463.01 L1061.76,462.91 L1061.9,462.44 L1062.04,461.96 L1062.17,461.46 L1062.31,460.93 L1062.45,460.38 L1062.59,459.84 L1062.59,459.81 L1062.73,459.21 L1062.87,458.59 L1063.01,457.93 L1063.15,457.24 L1063.29,456.52 L1063.43,455.77 L1063.45,455.67 L1063.57,454.98 L1063.71,454.14 L1063.85,453.27 L1063.99,452.35 L1064.13,451.38 L1064.27,450.36 L1064.31,450.02 L1064.41,449.28 L1064.55,448.14 L1064.69,446.94 L1064.83,445.68 L1064.97,444.33 L1065.11,442.91 L1065.18,442.16 L1065.25,441.4 L1065.39,439.81 L1065.53,438.11 L1065.67,436.3 L1065.81,434.38 L1065.94,432.34 L1066.04,430.84 L1066.08,430.15 L1066.22,427.82 L1066.36,425.33 L1066.5,422.67 L1066.64,419.82 L1066.78,416.76 L1066.91,413.89 L1066.92,413.48 L1067.06,409.95 L1067.2,406.16 L1067.34,402.07 L1067.48,397.67 L1067.62,392.92 L1067.76,387.8 L1067.77,387.44 L1067.79,386.54 L1067.83,385.17 L1067.86,383.77 L1067.9,382.34 L1067.9,382.26 L1067.93,380.88 L1067.97,379.4 L1068,377.88 L1068.04,376.34 L1068.04,376.27 L1068.07,374.76 L1068.11,373.16 L1068.14,371.52 L1068.18,369.84 L1068.18,369.79 L1068.21,368.14 L1068.25,366.4 L1068.28,364.63 L1068.32,362.82 L1068.32,362.78 L1068.35,360.97 L1068.39,359.09 L1068.42,357.17 L1068.46,355.21 L1068.46,355.19 L1068.49,353.22 L1068.53,351.18 L1068.56,349.1 L1068.6,346.99 L1068.6,346.99 L1068.63,344.83 L1068.63,344.81 L1068.67,342.62 L1068.7,340.38 L1068.74,338.12 L1068.74,338.09 L1068.77,335.76 L1068.81,333.38 L1068.84,330.96 L1068.88,328.55 L1068.88,328.49 L1068.91,325.97 L1068.95,323.41 L1068.98,320.79 L1069.02,318.24 L1069.02,318.13 L1069.05,315.42 L1069.09,312.67 L1069.12,309.86 L1069.16,307.15 L1069.16,307 L1069.19,304.1 L1069.23,301.14 L1069.26,298.13 L1069.3,295.27 L1069.3,295.07 L1069.33,291.97 L1069.37,288.81 L1069.4,285.6 L1069.44,282.6 L1069.44,282.35 L1069.47,279.05 L1069.5,276.77 L1069.51,275.7 L1069.54,272.3 L1069.58,269.16 L1069.58,268.86 L1069.61,265.37 L1069.65,261.84 L1069.68,258.26 L1069.71,255.01 L1069.72,254.65 L1069.75,251 L1069.79,247.31 L1069.82,243.59 L1069.85,240.25 L1069.86,239.83 L1069.89,236.05 L1069.93,232.25 L1069.96,228.42 L1069.99,225.04 L1070,224.57 L1070.03,220.71 L1070.07,216.83 L1070.1,212.95 L1070.13,209.59 L1070.14,209.07 L1070.17,205.19 L1070.21,201.32 L1070.24,197.47 L1070.27,194.19 L1070.28,193.63 L1070.31,189.82 L1070.35,186.04 L1070.36,184.71 L1070.38,182.3 L1070.41,179.19 L1070.42,178.61 L1070.45,174.97 L1070.49,171.38 L1070.52,167.87 L1070.55,165.01 L1070.56,164.43 L1070.59,161.07 L1070.63,157.8 L1070.66,154.63 L1070.69,152.12 L1070.7,151.57 L1070.73,148.62 L1070.77,145.79 L1070.8,143.09 L1070.83,141.01 L1070.84,140.52 L1070.87,138.1 L1070.91,135.83 L1070.94,133.72 L1070.97,132.16 L1070.98,131.77 L1071.01,129.99 L1071.05,128.39 L1071.08,126.96 L1071.11,125.98 L1071.12,125.72 L1071.15,124.68 L1071.19,123.82 L1071.22,123.16 L1071.22,123.14 L1071.25,122.78 L1071.26,122.69 L1071.29,122.43 L1071.33,122.36 L1071.36,122.5 L1071.39,122.73 L1071.4,122.83 L1071.43,123.36 L1071.47,124.09 L1071.5,125.02 L1071.53,125.83 L1071.54,126.13 L1071.57,127.44 L1071.61,128.92 L1071.64,130.59 L1071.67,131.92 L1071.68,132.43 L1071.71,134.43 L1071.75,136.6 L1071.78,138.92 L1071.81,140.69 L1071.82,141.4 L1071.85,144.01 L1071.89,146.75 L1071.92,149.63 L1071.95,151.73 L1071.96,152.62 L1071.99,155.72 L1072.03,158.92 L1072.06,162.22 L1072.09,164.58 L1072.09,164.6 L1072.1,165.61 L1072.13,169.08 L1072.17,172.62 L1072.2,176.22 L1072.23,178.72 L1072.24,179.88 L1072.27,183.59 L1072.31,187.35 L1072.34,191.14 L1072.37,193.7 L1072.38,194.96 L1072.41,198.8 L1072.45,202.66 L1072.48,206.54 L1072.51,209.1 L1072.52,210.42 L1072.55,214.3 L1072.59,218.18 L1072.62,222.05 L1072.65,224.55 L1072.66,225.9 L1072.69,229.75 L1072.73,233.57 L1072.76,237.37 L1072.79,239.77 L1072.8,241.14 L1072.83,244.88 L1072.87,248.59 L1072.9,252.27 L1072.93,254.54 L1072.94,255.91 L1072.95,257.26 L1072.97,259.51 L1073.01,263.06 L1073.04,266.58 L1073.07,268.71 L1073.08,270.05 L1073.11,273.48 L1073.15,276.86 L1073.18,280.2 L1073.21,282.18 L1073.22,283.48 L1073.25,286.72 L1073.29,289.91 L1073.32,293.05 L1073.35,294.87 L1073.36,296.14 L1073.39,299.18 L1073.43,302.17 L1073.46,305.11 L1073.48,306.78 L1073.5,308 L1073.53,310.84 L1073.57,313.63 L1073.6,316.37 L1073.62,317.89 L1073.64,319.06 L1073.67,321.7 L1073.71,324.3 L1073.74,326.85 L1073.76,328.23 L1073.78,329.35 L1073.81,331.8 L1073.82,331.92 L1073.85,334.21 L1073.88,336.57 L1073.9,337.83 L1073.92,338.89 L1073.95,341.16 L1073.99,343.39 L1074.02,345.58 L1074.04,346.72 L1074.06,347.72 L1074.09,349.83 L1074.13,351.89 L1074.16,353.91 L1074.18,354.94 L1074.2,355.9 L1074.23,357.84 L1074.27,359.75 L1074.3,361.62 L1074.32,362.54 L1074.34,363.45 L1074.37,365.25 L1074.41,367.01 L1074.44,368.73 L1074.46,369.57 L1074.48,370.43 L1074.51,372.09 L1074.55,373.72 L1074.58,375.31 L1074.6,376.07 L1074.62,376.88 L1074.65,378.41 L1074.68,379.5 L1074.69,379.92 L1074.72,381.39 L1074.74,382.07 L1074.76,382.84 L1074.88,387.63 L1075.02,392.77 L1075.16,397.53 L1075.3,401.94 L1075.44,406.03 L1075.54,408.91 L1075.58,409.83 L1075.72,413.37 L1075.86,416.66 L1076,419.72 L1076.14,422.58 L1076.28,425.25 L1076.41,427.59 L1076.42,427.75 L1076.56,430.08 L1076.7,432.27 L1076.84,434.32 L1076.98,436.24 L1077.12,438.05 L1077.25,439.75 L1077.27,439.96 L1077.39,441.36 L1077.53,442.86 L1077.67,444.29 L1077.81,445.63 L1077.95,446.9 L1078.09,448.11 L1078.14,448.47 L1078.23,449.25 L1078.37,450.32 L1078.51,451.35 L1078.65,452.32 L1078.79,453.24 L1078.93,454.12 L1079,454.54 L1079.07,454.95 L1079.21,455.74 L1079.35,456.5 L1079.49,457.22 L1079.63,457.91 L1079.77,458.57 L1079.86,459 L1079.91,459.19 L1080.05,459.79 L1080.19,460.37 L1080.33,460.92 L1080.47,461.44 L1080.61,461.94 L1080.73,462.37 L1080.75,462.43 L1080.89,462.89 L1081.02,463.33 L1081.16,463.76 L1081.3,464.17 L1081.44,464.57 L1081.58,464.94 L1081.59,464.97 L1081.72,465.31 L1081.86,465.66 L1082,466 L1082.14,466.32 L1082.28,466.64 L1082.42,466.94 L1082.46,467.01 L1082.56,467.23 L1082.7,467.51 L1082.84,467.78 L1082.98,468.05 L1083.12,468.3 L1083.26,468.55 L1083.32,468.65 L1083.4,468.78 L1083.54,469.01 L1083.68,469.23 L1083.82,469.45 L1083.96,469.66 L1084.1,469.86 L1084.18,469.98 L1084.24,470.05 L1084.38,470.24 L1084.52,470.42 L1084.66,470.6 L1084.79,470.77 L1084.93,470.94 L1085.05,471.07 L1085.07,471.1 L1085.21,471.26 L1085.35,471.41 L1085.49,471.56 L1085.63,471.71 L1085.77,471.85 L1085.91,471.98 L1085.91,471.98 L1086.05,472.12 L1086.19,472.25 L1086.33,472.37 L1086.47,472.49 L1086.61,472.61 L1086.75,472.73 L1086.77,472.75 L1086.89,472.84 L1087.03,472.95 L1087.17,473.06 L1087.31,473.16 L1087.45,473.27 L1087.59,473.36 L1087.64,473.4 L1087.73,473.46 L1087.87,473.56 L1088.01,473.65 L1088.15,473.74 L1088.29,473.83 L1088.43,473.91 L1088.5,473.96 L1088.56,473.99 L1088.7,474.08 L1088.84,474.16 L1088.98,474.23 L1089.12,474.31 L1089.26,474.38 L1089.37,474.44 L1089.4,474.46 L1089.54,474.53 L1089.68,474.6 L1089.82,474.66 L1089.96,474.73 L1090.1,474.79 L1090.23,474.85 L1090.24,474.86 L1090.38,474.92 L1090.52,474.98 L1090.66,475.04 L1090.8,475.1 L1090.94,475.16 L1091.08,475.21 L1091.09,475.22 L1091.22,475.27 L1091.36,475.32 L1091.5,475.37 L1091.64,475.42 L1091.78,475.47 L1091.92,475.52 L1091.96,475.54 L1092.06,475.57 L1092.2,475.62 L1092.33,475.67 L1092.47,475.71 L1092.61,475.76 L1092.75,475.8 L1092.82,475.82 L1092.89,475.84 L1093.03,475.88 L1093.17,475.93 L1093.31,475.97 L1093.45,476.01 L1093.59,476.05 L1093.69,476.07 L1093.73,476.08 L1093.87,476.12 L1094.01,476.16 L1094.15,476.2 L1094.29,476.23 L1094.43,476.27 L1094.55,476.3 L1094.57,476.3 L1094.71,476.33 L1094.85,476.37 L1094.99,476.4 L1095.13,476.43 L1095.27,476.46 L1095.41,476.49 L1095.41,476.5 L1095.55,476.52 L1095.69,476.55 L1095.83,476.58 L1095.97,476.61 L1096.1,476.64 L1096.24,476.67 L1096.28,476.68 L1096.38,476.7 L1096.52,476.72 L1096.66,476.75 L1096.8,476.78 L1096.94,476.8 L1097.08,476.83 L1097.14,476.84 L1097.22,476.85 L1097.36,476.88 L1097.5,476.9 L1097.64,476.93 L1097.78,476.95 L1097.92,476.97 L1098,476.99 L1098.06,476.99 L1098.2,477.02 L1098.34,477.04 L1098.48,477.06 L1098.62,477.08 L1098.76,477.1 L1098.87,477.12 L1098.9,477.12 L1099.04,477.14 L1099.18,477.16 L1099.32,477.18 L1099.46,477.2 L1099.6,477.22 L1099.73,477.24 L1099.74,477.24 L1099.87,477.26 L1100.01,477.28 L1100.15,477.3 L1100.29,477.31 L1100.43,477.33 L1100.57,477.35 L1100.6,477.35 L1100.71,477.37 L1100.85,477.38 L1100.99,477.4 L1101.13,477.42 L1101.27,477.43 L1101.41,477.45 L1101.46,477.45 L1101.55,477.46 L1101.69,477.48 L1101.83,477.49 L1101.97,477.51 L1102.11,477.52 L1102.25,477.54 L1102.32,477.55 L1102.39,477.55 L1102.53,477.57 L1102.67,477.58 L1102.81,477.6 L1102.95,477.61 L1103.09,477.62 L1103.19,477.63 L1103.23,477.64 L1103.37,477.65 L1103.51,477.66 L1103.64,477.68 L1103.78,477.69 L1103.92,477.7 L1104.05,477.71 L1104.06,477.71 L1104.2,477.73 L1104.34,477.74 L1104.48,477.75 L1104.62,477.76 L1104.76,477.77 L1104.9,477.78 L1104.92,477.79 L1105.04,477.8 L1105.18,477.81 L1105.32,477.82 L1105.46,477.83 L1105.6,477.84 L1105.74,477.85 L1105.78,477.85 L1105.88,477.86 L1106.02,477.87 L1106.16,477.88 L1106.3,477.89 L1106.44,477.9 L1106.58,477.91 L1106.64,477.92 L1106.72,477.92 L1106.86,477.93 L1107,477.94 L1107.14,477.95 L1107.28,477.96 L1107.51,477.98 L1108.37,478.03 L1109.24,478.08 L1110.1,478.13 L1110.96,478.17 L1111.83,478.21 L1112.69,478.25 L1113.55,478.29 L1114.42,478.32 L1115.28,478.36 L1116.15,478.39 L1117.01,478.42 L1117.87,478.44 L1118.74,478.47 L1119.6,478.49 L1120.47,478.52 L1121.33,478.54 L1122.19,478.56 L1123.06,478.58 L1123.92,478.6 L1124.79,478.62 L1125.65,478.63 L1126.51,478.65 L1127.38,478.67 L1128.24,478.68 L1129.1,478.7 L1129.97,478.71 L1130.83,478.72 L1131.7,478.73 L1132.56,478.75 L1133.42,478.76 L1134.29,478.77 L1135.15,478.78 L1136.02,478.79 L1136.88,478.8 L1137.74,478.81 L1138.61,478.82 L1139.47,478.83 L1140.33,478.83 L1141.2,478.84 L1142.06,478.85 L1142.93,478.86 L1143.79,478.87 L1144.65,478.87 L1145.52,478.88 L1146.38,478.89 L1147.25,478.89 L1148.11,478.9 L1148.97,478.9 L1149.84,478.91 L1150.7,478.91 L1151.57,478.92 L1152.43,478.93 L1153.29,478.93 L1154.16,478.93 L1155.02,478.94 L1155.88,478.94 L1156.75,478.95 L1157.61,478.95 L1158.48,478.96 L1159.34,478.96 L1160.2,478.96 L1161.07,478.97 L1161.93,478.97 L1162.8,478.98 L1163.66,478.98 L1164.52,478.98 L1165.39,478.99 L1166.25,478.99 L1167.12,478.99 L1167.98,479 L1168.84,479 L1169.71,479 L1170.57,479 L1171.43,479.01 L1172.3,479.01 L1173.16,479.01 L1174.03,479.01 L1174.89,479.02 L1175.75,479.02 L1176.62,479.02 L1177.48,479.02 L1178.35,479.03 L1179.21,479.03 L1180.07,479.03 L1180.94,479.03 L1181.8,479.03 L1182.66,479.04 L1183.53,479.04 L1184.39,479.04 L1185.26,479.04 L1186.12,479.04 L1186.98,479.05 L1187.85,479.05 L1188.71,479.05 L1189.58,479.05 L1190.44,479.05 L1191.3,479.05 L1192.17,479.06 L1193.03,479.06 L1193.9,479.06 L1194.76,479.06 L1195.62,479.06 L1196.49,479.06 L1197.35,479.06 L1198.21,479.07 L1199.08,479.07 L1199.94,479.07 L1200.81,479.07 L1201.67,479.07 L1202.53,479.07 L1203.4,479.07 L1204.26,479.07 L1205.13,479.07 L1205.99,479.08 L1206.85,479.08 L1207.72,479.08 L1208.58,479.08 L1209.45,479.08 L1210.31,479.08 L1211.17,479.08 L1212.04,479.08 L1212.9,479.08 L1213.76,479.09 L1214.63,479.09 L1215.49,479.09 L1216.36,479.09 L1217.22,479.09 L1218.08,479.09 L1218.95,479.09 L1219.81,479.09 L1220.68,479.09 L1221.54,479.09 L1222.4,479.09 L1223.27,479.09 L1224.13,479.1 L1224.99,479.1 L1225.86,479.1 L1226.72,479.1 L1227.59,479.1 L1228.45,479.1 L1229.31,479.1 L1230.18,479.1 L1231.04,479.1 L1231.91,479.1 L1232.77,479.1 L1233.63,479.1 L1234.5,479.1 L1235.36,479.1 L1236.23,479.1 L1237.09,479.11 L1237.95,479.11 L1238.82,479.11 L1239.68,479.11 L1240.54,479.11 L1241.41,479.11 L1242.27,479.11 L1243.14,479.11 L1244,479.11 L1244.86,479.11 L1245.73,479.11 L1246.59,479.11 L1247.46,479.11 L1248.32,479.11 L1249.18,479.11 L1250.05,479.11 L1250.91,479.11 L1251.78,479.11 L1252.64,479.11 L1253.5,479.12 L1254.37,479.12 L1255.23,479.12 L1256.09,479.12 L1256.96,479.12 L1257.82,479.12 L1258.69,479.12 L1259.55,479.12 L1260.41,479.12 L1261.28,479.12 L1262.14,479.12 L1263.01,479.12 L1263.87,479.12 L1264.73,479.12 L1265.6,479.12 L1266.46,479.12 L1267.32,479.12 L1268.19,479.12 L1269.05,479.12 L1269.92,479.12 L1270.78,479.12 L1271.64,479.12 L1272.51,479.12 L1273.37,479.12 L1274.24,479.12 L1275.1,479.12 L1275.96,479.12 L1276.83,479.13 L1277.69,479.13 L1278.56,479.13 L1279.42,479.13 L1280.28,479.13 L1281.15,479.13 L1282.01,479.13 L1282.87,479.13 L1283.74,479.13 L1284.6,479.13 L1285.47,479.13 L1286.33,479.13 L1287.19,479.13 L1288.06,479.13 L1288.92,479.13 L1289.79,479.13 L1290.65,479.13 L1291.51,479.13 L1292.38,479.13 L1293.24,479.13 L1294.11,479.13 L1294.97,479.13 L1295.83,479.13 L1296.7,479.13 L1297.56,479.13 L1298.42,479.13 L1299.29,479.13 L1300.15,479.13 L1301.02,479.13 L1301.88,479.13 L1302.74,479.13 L1303.61,479.13 L1304.47,479.13 L1305.34,479.13 L1306.2,479.13 L1307.06,479.13 L1307.93,479.13 L1308.79,479.13 L1309.65,479.13 L1310.52,479.13 L1311.38,479.13 L1312.25,479.14 L1313.11,479.14 L1313.97,479.14 L1314.84,479.14 L1315.7,479.14 L1316.57,479.14 L1317.43,479.14 L1318.29,479.14 L1319.16,479.14 L1320.02,479.14 L1320.89,479.14 L1321.75,479.14 L1322.61,479.14 L1323.48,479.14 L1324.34,479.14 L1325.2,479.14 L1326.07,479.14 L1326.93,479.14 L1327.8,479.14 L1328.66,479.14 L1329.52,479.14 L1330.39,479.14 L1331.25,479.14 L1332.12,479.14 L1332.98,479.14 L1333.84,479.14 L1334.71,479.14 L1335.57,479.14 L1336.43,479.14 L1337.3,479.14 L1338.16,479.14 L1339.03,479.14 L1339.89,479.14 L1340.75,479.14 L1341.62,479.14 L1342.48,479.14 L1343.35,479.14 L1344.21,479.14 L1345.07,479.14 L1345.94,479.14 L1346.8,479.14 L1347.67,479.14 L1348.53,479.14 L1349.39,479.14 L1350.26,479.14 L1351.12,479.14 L1351.98,479.14 L1352.85,479.14 L1353.71,479.14 L1354.58,479.14 L1355.44,479.14 L1356.3,479.14 L1357.17,479.14 L1358.03,479.14 L1358.9,479.14 L1359.76,479.14 L1360.62,479.14 L1361.49,479.14 L1362.35,479.14 L1363.22,479.14 L1364.08,479.14 L1364.94,479.14 L1365.81,479.14 L1366.67,479.14 L1367.53,479.14 L1368.4,479.14 L1369.26,479.14 L1370.13,479.14 L1370.99,479.14 L1371.85,479.14 L1372.72,479.14 L1373.58,479.14 L1374.45,479.15 L1375.31,479.15 L1376.17,479.15 L1377.04,479.15 L1377.9,479.15 L1378.76,479.15 L1379.63,479.15 L1380.49,479.15 L1381.36,479.15 L1382.22,479.15 L1383.08,479.15 L1383.95,479.15 L1384.81,479.15 L1385.68,479.15 L1386.54,479.15 L1387.4,479.15 L1388.27,479.15 L1389.13,479.15 L1390,479.15 L1390.86,479.15 L1391.72,479.15 L1392.59,479.15 L1393.45,479.15 L1394.31,479.15 L1395.18,479.15 L1396.04,479.15 L1396.91,479.15 L1397.77,479.15 L1398.63,479.15 L1399.5,479.15 L1400.36,479.15 L1401.23,479.15 L1402.09,479.15 L1402.95,479.15 L1403.82,479.15 L1404.68,479.15 L1405.55,479.15 L1406.41,479.15 L1407.27,479.15 L1408.14,479.15 L1409,479.15 L1409.86,479.15 L1410.73,479.15 L1411.59,479.15 L1412.46,479.15 L1413.32,479.15 L1414.18,479.15 L1415.05,479.15 L1415.91,479.15 L1416.78,479.15 L1417.64,479.15 L1418.5,479.15 L1419.37,479.15 L1420.23,479.15 L1421.09,479.15 L1421.96,479.15 L1422.82,479.15 L1423.69,479.15 L1424.55,479.15 L1425.41,479.15 L1426.28,479.15 L1427.14,479.15 L1428.01,479.15 L1428.87,479.15 L1429.73,479.15 L1430.6,479.15 L1431.46,479.15 L1432.33,479.15 L1433.19,479.15 L1434.05,479.15 L1434.92,479.15 L1435.78,479.15 L1436.64,479.15 L1437.51,479.15 L1438.37,479.15 L1439.24,479.15 L1440.1,479.15 L1440.96,479.15 L1441.83,479.15 L1442.69,479.15 L1443.56,479.15 L1444.42,479.15 L1445.28,479.15 L1446.15,479.15 L1447.01,479.15 L1447.88,479.15 L1448.74,479.15 L1449.6,479.15 L1450.47,479.15 L1451.33,479.15 L1452.19,479.15 L1453.06,479.15 L1453.92,479.15 L1454.79,479.15 L1455.65,479.15" stroke="#f00" stroke-width="4.3"/>
</g>
<path d="M846.3,475.6L851.8,486.2L857.3,475.6ZM852.18,475.59L857.68,486.19L863.18,475.59ZM858.59,475.59L864.09,486.19L869.59,475.59ZM865.58,475.59L871.08,486.19L876.58,475.59ZM873.25,475.59L878.75,486.19L884.25,475.59ZM881.7,475.58L887.2,486.18L892.7,475.58ZM891.06,475.58L896.56,486.18L902.06,475.58ZM901.47,475.57L906.97,486.17L912.47,475.57ZM913.13,475.56L918.63,486.16L924.13,475.56ZM926.28,475.55L931.78,486.15L937.28,475.55ZM941.22,475.53L946.72,486.13L952.22,475.53ZM958.35,475.49L963.85,486.09L969.35,475.49ZM978.17,475.43L983.67,486.03L989.17,475.43ZM1001.39,475.25L1006.89,485.85L1012.39,475.25ZM1028.96,474.48L1034.46,485.08L1039.96,474.48ZM1062.23,385.54L1067.73,396.14L1073.23,385.54ZM1103.15,474.51L1108.65,485.11L1114.15,474.51ZM1154.74,475.43L1160.24,486.03L1165.74,475.43ZM1221.77,475.56L1227.27,486.16L1232.77,475.56ZM1312.4,475.6L1317.9,486.2L1323.4,475.6Z" fill="#f00"/>
<g clip-path="url(#cb)" fill="none" stroke-linejoin="round">
<path d="M851.8,479.13 L852.66,479.13 L853.53,479.13 L854.39,479.13 L855.26,479.13 L856.12,479.13 L856.98,479.13 L857.85,479.13 L858.71,479.13 L859.57,479.13 L860.44,479.13 L861.3,479.13 L862.17,479.12 L863.03,479.12 L863.89,479.12 L864.76,479.12 L865.62,479.12 L866.49,479.12 L867.35,479.12 L868.21,479.12 L869.08,479.12 L869.94,479.12 L870.81,479.12 L871.67,479.12 L872.53,479.12 L873.4,479.12 L874.26,479.12 L875.12,479.12 L875.99,479.12 L876.85,479.12 L877.72,479.12 L878.58,479.12 L879.44,479.12 L880.31,479.12 L881.17,479.12 L882.04,479.12 L882.9,479.12 L883.76,479.12 L884.63,479.12 L885.49,479.11 L886.36,479.11 L887.22,479.11 L888.08,479.11 L888.95,479.11 L889.81,479.11 L890.67,479.11 L891.54,479.11 L892.4,479.11 L893.27,479.11 L894.13,479.11 L894.99,479.11 L895.86,479.11 L896.72,479.11 L897.59,479.11 L898.45,479.11 L899.31,479.11 L900.18,479.11 L901.04,479.11 L901.9,479.11 L902.77,479.1 L903.63,479.1 L904.5,479.1 L905.36,479.1 L906.22,479.1 L907.09,479.1 L907.95,479.1 L908.82,479.1 L909.68,479.1 L910.54,479.1 L911.41,479.1 L912.27,479.1 L913.14,479.1 L914,479.1 L914.86,479.1 L915.73,479.09 L916.59,479.09 L917.45,479.09 L918.32,479.09 L919.18,479.09 L920.05,479.09 L920.91,479.09 L921.77,479.09 L922.64,479.09 L923.5,479.09 L924.37,479.09 L925.23,479.09 L926.09,479.08 L926.96,479.08 L927.82,479.08 L928.69,479.08 L929.55,479.08 L930.41,479.08 L931.28,479.08 L932.14,479.08 L933,479.08 L933.87,479.08 L934.73,479.07 L935.6,479.07 L936.46,479.07 L937.32,479.07 L938.19,479.07 L939.05,479.07 L939.92,479.07 L940.78,479.07 L941.64,479.06 L942.51,479.06 L943.37,479.06 L944.23,479.06 L945.1,479.06 L945.96,479.06 L946.83,479.06 L947.69,479.06 L948.55,479.05 L949.42,479.05 L950.28,479.05 L951.15,479.05 L952.01,479.05 L952.87,479.05 L953.74,479.04 L954.6,479.04 L955.47,479.04 L956.33,479.04 L957.19,479.04 L958.06,479.03 L958.92,479.03 L959.78,479.03 L960.65,479.03 L961.51,479.03 L962.38,479.02 L963.24,479.02 L964.1,479.02 L964.97,479.02 L965.83,479.02 L966.7,479.01 L967.56,479.01 L968.42,479.01 L969.29,479.01 L970.15,479 L971.02,479 L971.88,479 L972.74,478.99 L973.61,478.99 L974.47,478.99 L975.33,478.98 L976.2,478.98 L977.06,478.98 L977.93,478.98 L978.79,478.97 L979.65,478.97 L980.52,478.96 L981.38,478.96 L982.25,478.96 L983.11,478.95 L983.97,478.95 L984.84,478.94 L985.7,478.94 L986.56,478.93 L987.43,478.93 L988.29,478.93 L989.16,478.92 L990.02,478.92 L990.88,478.91 L991.75,478.9 L992.61,478.9 L993.48,478.89 L994.34,478.89 L995.2,478.88 L996.07,478.87 L996.93,478.87 L997.8,478.86 L998.66,478.85 L999.52,478.85 L1000.39,478.84 L1001.25,478.83 L1002.11,478.82 L1002.98,478.81 L1003.84,478.8 L1004.71,478.79 L1005.57,478.78 L1006.43,478.77 L1007.3,478.76 L1008.16,478.75 L1009.03,478.74 L1009.89,478.73 L1010.75,478.72 L1011.62,478.7 L1012.48,478.69 L1013.34,478.68 L1014.21,478.66 L1015.07,478.65 L1015.94,478.63 L1016.8,478.61 L1017.66,478.6 L1018.53,478.58 L1019.39,478.56 L1020.26,478.54 L1021.12,478.52 L1021.98,478.49 L1022.85,478.47 L1023.71,478.44 L1024.58,478.42 L1025.44,478.39 L1026.3,478.36 L1027.17,478.33 L1028.03,478.29 L1028.89,478.26 L1029.76,478.22 L1030.62,478.18 L1031.49,478.14 L1032.35,478.09 L1033.21,478.04 L1034.08,477.99 L1034.94,477.93 L1035.81,477.87 L1036.67,477.81 L1037.53,477.74 L1037.6,477.73 L1037.74,477.72 L1037.88,477.71 L1038.02,477.7 L1038.16,477.68 L1038.3,477.67 L1038.4,477.66 L1038.44,477.66 L1038.58,477.65 L1038.72,477.63 L1038.86,477.62 L1039,477.61 L1039.14,477.59 L1039.26,477.58 L1039.28,477.58 L1039.42,477.57 L1039.55,477.55 L1039.69,477.54 L1039.83,477.52 L1039.97,477.51 L1040.11,477.49 L1040.13,477.49 L1040.25,477.48 L1040.39,477.46 L1040.53,477.45 L1040.67,477.43 L1040.81,477.42 L1040.95,477.4 L1040.99,477.4 L1041.09,477.38 L1041.23,477.37 L1041.37,477.35 L1041.51,477.33 L1041.65,477.32 L1041.79,477.3 L1041.85,477.29 L1041.93,477.28 L1042.07,477.26 L1042.21,477.25 L1042.35,477.23 L1042.49,477.21 L1042.63,477.19 L1042.72,477.18 L1042.77,477.17 L1042.91,477.15 L1043.05,477.13 L1043.19,477.11 L1043.32,477.09 L1043.46,477.07 L1043.58,477.05 L1043.6,477.05 L1043.74,477.03 L1043.88,477.01 L1044.02,476.99 L1044.16,476.96 L1044.3,476.94 L1044.44,476.92 L1044.44,476.92 L1044.58,476.89 L1044.72,476.87 L1044.86,476.85 L1045,476.82 L1045.14,476.8 L1045.28,476.77 L1045.31,476.77 L1045.42,476.75 L1045.56,476.72 L1045.7,476.69 L1045.84,476.67 L1045.98,476.64 L1046.12,476.61 L1046.17,476.6 L1046.26,476.58 L1046.4,476.55 L1046.54,476.52 L1046.68,476.49 L1046.82,476.46" stroke="#000" stroke-width="4.3" stroke-dasharray="17.5 18.3" stroke-dashoffset="0"/>
<path d="M1046.96,476.43 L1047.04,476.42 L1047.09,476.4 L1047.23,476.37 L1047.37,476.34 L1047.51,476.31 L1047.65,476.27 L1047.79,476.24 L1047.9,476.21 L1047.93,476.2 L1048.07,476.17 L1048.21,476.13 L1048.35,476.09 L1048.49,476.06 L1048.63,476.02 L1048.76,475.98 L1048.77,475.98 L1048.91,475.94 L1049.05,475.9 L1049.19,475.86 L1049.33,475.82 L1049.47,475.78 L1049.61,475.73 L1049.63,475.73 L1049.75,475.69 L1049.89,475.64 L1050.03,475.6 L1050.17,475.55 L1050.31,475.5 L1050.45,475.45 L1050.49,475.44 L1050.59,475.41 L1050.73,475.35 L1050.86,475.3 L1051,475.25 L1051.14,475.2 L1051.28,475.14 L1051.36,475.11 L1051.42,475.09 L1051.56,475.03 L1051.7,474.97 L1051.84,474.91 L1051.98,474.85 L1052.12,474.79 L1052.22,474.74 L1052.26,474.72 L1052.4,474.66 L1052.54,474.59 L1052.68,474.52 L1052.82,474.46 L1052.96,474.38 L1053.08,474.32 L1053.1,474.31 L1053.24,474.24 L1053.38,474.16 L1053.52,474.08 L1053.66,474 L1053.8,473.92 L1053.94,473.84 L1053.95,473.83 L1054.08,473.75 L1054.22,473.67 L1054.36,473.58 L1054.5,473.49 L1054.63,473.39 L1054.77,473.3 L1054.81,473.27 L1054.91,473.2 L1055.05,473.1 L1055.19,472.99 L1055.33,472.89 L1055.47,472.78 L1055.61,472.67 L1055.67,472.61 L1055.75,472.55 L1055.89,472.43 L1056.03,472.31 L1056.17,472.19 L1056.31,472.06 L1056.45,471.93 L1056.54,471.84 L1056.59,471.79 L1056.73,471.65 L1056.87,471.51 L1057.01,471.36 L1057.15,471.21 L1057.29,471.06 L1057.4,470.93 L1057.43,470.9 L1057.57,470.73 L1057.71,470.56 L1057.85,470.39 L1057.99,470.21 L1058.13,470.02 L1058.27,469.83 L1058.27,469.83 L1058.4,469.63 L1058.54,469.43 L1058.68,469.22 L1058.82,469 L1058.96,468.78 L1059.1,468.54 L1059.13,468.5 L1059.24,468.3 L1059.38,468.06 L1059.52,467.8 L1059.66,467.53 L1059.8,467.26 L1059.94,466.98 L1059.99,466.86 L1060.08,466.68 L1060.22,466.38 L1060.36,466.06 L1060.5,465.73 L1060.64,465.39 L1060.78,465.04 L1060.86,464.83 L1060.92,464.67 L1061.06,464.29 L1061.2,463.89 L1061.34,463.48 L1061.48,463.05 L1061.62,462.61 L1061.72,462.26 L1061.76,462.14 L1061.9,461.66 L1062.04,461.15 L1062.17,460.63 L1062.31,460.08 L1062.45,459.51 L1062.59,458.94 L1062.59,458.91 L1062.73,458.28 L1062.87,457.62 L1063.01,456.94 L1063.15,456.22 L1063.29,455.46 L1063.43,454.67 L1063.45,454.57 L1063.57,453.84 L1063.71,452.97 L1063.85,452.06 L1063.99,451.09 L1064.13,450.08 L1064.27,449.01 L1064.31,448.65 L1064.41,447.88 L1064.55,446.69 L1064.69,445.43 L1064.83,444.11 L1064.97,442.7 L1065.11,441.21 L1065.18,440.43 L1065.25,439.64 L1065.39,437.96 L1065.53,436.18 L1065.67,434.29 L1065.81,432.28 L1065.94,430.14 L1066.04,428.57 L1066.08,427.86 L1066.22,425.42 L1066.36,422.81 L1066.5,420.02 L1066.64,417.04 L1066.78,413.84 L1066.91,410.83 L1066.92,410.4 L1067.06,406.71 L1067.2,402.74 L1067.34,398.46 L1067.48,393.85 L1067.62,388.88 L1067.76,383.52 L1067.77,383.14 L1067.79,382.2 L1067.83,380.76 L1067.86,379.3 L1067.9,377.8 L1067.9,377.72 L1067.93,376.28 L1067.97,374.72 L1068,373.14 L1068.04,371.52 L1068.04,371.45 L1068.07,369.87 L1068.11,368.19 L1068.14,366.47 L1068.18,364.72 L1068.18,364.66 L1068.21,362.94 L1068.25,361.12 L1068.28,359.26 L1068.32,357.37 L1068.32,357.33 L1068.35,355.43 L1068.39,353.46 L1068.42,351.46 L1068.46,349.41 L1068.46,349.39 L1068.49,347.32 L1068.53,345.18 L1068.56,343.01 L1068.6,340.8 L1068.6,340.79 L1068.63,338.53 L1068.63,338.51 L1068.67,336.23 L1068.7,333.88 L1068.74,331.52 L1068.74,331.48 L1068.77,329.04 L1068.81,326.55 L1068.84,324.01 L1068.88,321.5 L1068.88,321.43 L1068.91,318.79 L1068.95,316.11 L1068.98,313.37 L1069.02,310.7 L1069.02,310.59 L1069.05,307.75 L1069.09,304.87 L1069.12,301.93 L1069.16,299.09 L1069.16,298.94 L1069.19,295.89 L1069.23,292.8 L1069.26,289.65 L1069.3,286.65 L1069.3,286.45 L1069.33,283.2 L1069.37,279.89 L1069.4,276.54 L1069.44,273.39 L1069.44,273.13 L1069.47,269.67 L1069.5,267.28 L1069.51,266.16 L1069.54,262.61 L1069.58,259.32 L1069.58,259 L1069.61,255.35 L1069.65,251.65 L1069.68,247.91 L1069.71,244.51 L1069.72,244.13 L1069.75,240.31 L1069.79,236.45 L1069.82,232.55 L1069.85,229.06 L1069.86,228.62 L1069.89,224.66 L1069.93,220.68 L1069.96,216.67 L1069.99,213.14 L1070,212.64 L1070.03,208.6 L1070.07,204.54 L1070.1,200.48 L1070.13,196.96 L1070.14,196.42 L1070.17,192.36 L1070.21,188.3 L1070.24,184.27 L1070.27,180.84 L1070.28,180.25 L1070.31,176.26 L1070.35,172.31 L1070.36,170.91 L1070.38,168.39 L1070.41,165.14 L1070.42,164.53 L1070.45,160.71 L1070.49,156.96 L1070.52,153.28 L1070.55,150.29 L1070.56,149.68 L1070.59,146.17 L1070.63,142.75 L1070.66,139.43 L1070.69,136.8 L1070.7,136.22 L1070.73,133.13 L1070.77,130.17 L1070.8,127.34 L1070.83,125.17 L1070.84,124.66 L1070.87,122.12 L1070.91,119.75 L1070.94,117.53 L1070.97,115.9 L1070.98,115.49 L1071.01,113.63 L1071.05,111.95 L1071.08,110.46 L1071.11,109.43 L1071.12,109.17 L1071.15,108.07 L1071.19,107.17 L1071.22,106.48 L1071.22,106.46 L1071.25,106.08 L1071.26,105.99 L1071.29,105.71 L1071.33,105.64 L1071.36,105.79 L1071.39,106.03 L1071.4,106.14 L1071.43,106.69 L1071.47,107.46 L1071.5,108.43 L1071.53,109.28 L1071.54,109.59 L1071.57,110.96 L1071.61,112.51 L1071.64,114.26 L1071.67,115.65 L1071.68,116.18 L1071.71,118.28 L1071.75,120.55 L1071.78,122.98 L1071.81,124.83 L1071.82,125.57 L1071.85,128.31 L1071.89,131.18 L1071.92,134.19 L1071.95,136.39 L1071.96,137.32 L1071.99,140.57 L1072.03,143.92 L1072.06,147.38 L1072.09,149.84 L1072.09,149.86 L1072.1,150.92 L1072.13,154.55 L1072.17,158.26 L1072.2,162.03 L1072.23,164.65 L1072.24,165.86 L1072.27,169.74 L1072.31,173.67 L1072.34,177.64 L1072.37,180.33 L1072.38,181.64 L1072.41,185.67 L1072.45,189.71 L1072.48,193.76 L1072.51,196.45 L1072.52,197.82 L1072.55,201.89 L1072.59,205.95 L1072.62,210 L1072.65,212.62 L1072.66,214.04 L1072.69,218.06 L1072.73,222.06 L1072.76,226.04 L1072.79,228.56 L1072.8,229.99 L1072.83,233.91 L1072.87,237.79 L1072.9,241.64 L1072.93,244.02 L1072.94,245.45 L1072.95,246.87 L1072.97,249.21 L1073.01,252.94 L1073.04,256.62 L1073.07,258.85 L1073.08,260.26 L1073.11,263.85 L1073.15,267.39 L1073.18,270.88 L1073.21,272.95 L1073.22,274.32 L1073.25,277.71 L1073.29,281.04 L1073.32,284.33 L1073.35,286.24 L1073.36,287.56 L1073.39,290.75 L1073.43,293.88 L1073.46,296.95 L1073.48,298.7 L1073.5,299.98 L1073.53,302.95 L1073.57,305.87 L1073.6,308.74 L1073.62,310.34 L1073.64,311.56 L1073.67,314.33 L1073.71,317.04 L1073.74,319.71 L1073.76,321.16 L1073.78,322.33 L1073.81,324.9 L1073.82,325.02 L1073.85,327.42 L1073.88,329.89 L1073.9,331.21 L1073.92,332.32 L1073.95,334.7 L1073.99,337.03 L1074.02,339.32 L1074.04,340.51 L1074.06,341.57 L1074.09,343.77 L1074.13,345.93 L1074.16,348.04 L1074.18,349.12 L1074.2,350.12 L1074.23,352.16 L1074.27,354.15 L1074.3,356.11 L1074.32,357.08 L1074.34,358.03 L1074.37,359.91 L1074.41,361.75 L1074.44,363.56 L1074.46,364.44 L1074.48,365.33 L1074.51,367.07 L1074.55,368.78 L1074.58,370.45 L1074.6,371.24 L1074.62,372.08 L1074.65,373.69 L1074.68,374.83 L1074.69,375.27 L1074.72,376.81 L1074.74,377.52 L1074.76,378.32 L1074.88,383.34 L1075.02,388.72 L1075.16,393.7 L1075.3,398.32 L1075.44,402.61 L1075.54,405.62 L1075.58,406.59 L1075.72,410.29 L1075.86,413.73 L1076,416.94 L1076.14,419.93 L1076.28,422.73 L1076.41,425.18 L1076.42,425.34 L1076.56,427.78 L1076.7,430.07 L1076.84,432.22 L1076.98,434.23 L1077.12,436.13 L1077.25,437.91 L1077.27,438.12 L1077.39,439.58 L1077.53,441.16 L1077.67,442.66 L1077.81,444.06 L1077.95,445.39 L1078.09,446.65 L1078.14,447.03 L1078.23,447.84 L1078.37,448.97 L1078.51,450.04 L1078.65,451.06 L1078.79,452.03 L1078.93,452.94 L1079,453.38 L1079.07,453.82 L1079.21,454.65 L1079.35,455.44 L1079.49,456.19 L1079.63,456.91 L1079.77,457.6 L1079.86,458.05 L1079.91,458.26 L1080.05,458.89 L1080.19,459.49 L1080.33,460.06 L1080.47,460.61 L1080.61,461.14 L1080.73,461.58 L1080.75,461.64 L1080.89,462.13 L1081.02,462.59 L1081.16,463.04 L1081.3,463.47 L1081.44,463.88 L1081.58,464.28 L1081.59,464.3 L1081.72,464.66 L1081.86,465.03 L1082,465.38 L1082.14,465.72 L1082.28,466.05 L1082.42,466.37 L1082.46,466.44 L1082.56,466.67 L1082.7,466.97 L1082.84,467.25 L1082.98,467.53 L1083.12,467.79 L1083.26,468.05 L1083.32,468.16 L1083.4,468.3 L1083.54,468.54 L1083.68,468.77 L1083.82,468.99 L1083.96,469.21 L1084.1,469.42 L1084.18,469.55 L1084.24,469.63 L1084.38,469.82 L1084.52,470.02 L1084.66,470.2 L1084.79,470.38 L1084.93,470.56 L1085.05,470.69 L1085.07,470.73 L1085.21,470.89 L1085.35,471.05 L1085.49,471.21 L1085.63,471.36 L1085.77,471.51 L1085.91,471.65 L1085.91,471.65 L1086.05,471.79 L1086.19,471.92 L1086.33,472.05 L1086.47,472.18 L1086.61,472.31 L1086.75,472.43 L1086.77,472.45 L1086.89,472.55 L1087.03,472.66 L1087.17,472.77 L1087.31,472.88 L1087.45,472.99 L1087.59,473.09 L1087.64,473.13 L1087.73,473.19 L1087.87,473.29 L1088.01,473.39 L1088.15,473.48 L1088.29,473.58 L1088.43,473.66 L1088.5,473.71 L1088.56,473.75 L1088.7,473.84 L1088.84,473.92 L1088.98,474 L1089.12,474.08 L1089.26,474.16 L1089.37,474.22 L1089.4,474.24 L1089.54,474.31 L1089.68,474.38 L1089.82,474.45 L1089.96,474.52 L1090.1,474.59 L1090.23,474.65 L1090.24,474.66 L1090.38,474.72 L1090.52,474.79 L1090.66,474.85 L1090.8,474.91 L1090.94,474.97 L1091.08,475.03 L1091.09,475.03 L1091.22,475.08 L1091.36,475.14 L1091.5,475.19 L1091.64,475.25 L1091.78,475.3 L1091.92,475.35 L1091.96,475.37 L1092.06,475.4 L1092.2,475.45 L1092.33,475.5 L1092.47,475.55 L1092.61,475.6 L1092.75,475.64 L1092.82,475.66 L1092.89,475.69 L1093.03,475.73 L1093.17,475.77 L1093.31,475.82 L1093.45,475.86 L1093.59,475.9 L1093.69,475.93 L1093.73,475.94 L1093.87,475.98 L1094.01,476.02 L1094.15,476.06 L1094.29,476.09 L1094.43,476.13 L1094.55,476.16 L1094.57,476.17 L1094.71,476.2 L1094.85,476.24 L1094.99,476.27 L1095.13,476.3 L1095.27,476.34 L1095.41,476.37 L1095.41,476.37 L1095.55,476.4 L1095.69,476.43 L1095.83,476.46 L1095.97,476.49 L1096.1,476.52 L1096.24,476.55 L1096.28,476.56 L1096.38,476.58 L1096.52,476.61 L1096.66,476.64 L1096.8,476.67 L1096.94,476.69 L1097.08,476.72 L1097.14,476.73 L1097.22,476.74 L1097.36,476.77 L1097.5,476.8 L1097.64,476.82 L1097.78,476.85 L1097.92,476.87" stroke="#000" stroke-width="4.3" stroke-dasharray="17.5 18.3" stroke-dashoffset="20.49"/>
<path d="M1098,476.88 L1098.06,476.89 L1098.2,476.92 L1098.34,476.94 L1098.48,476.96 L1098.62,476.98 L1098.76,477.01 L1098.87,477.02 L1098.9,477.03 L1099.04,477.05 L1099.18,477.07 L1099.32,477.09 L1099.46,477.11 L1099.6,477.13 L1099.73,477.15 L1099.74,477.15 L1099.87,477.17 L1100.01,477.19 L1100.15,477.21 L1100.29,477.23 L1100.43,477.25 L1100.57,477.26 L1100.6,477.27 L1100.71,477.28 L1100.85,477.3 L1100.99,477.32 L1101.13,477.33 L1101.27,477.35 L1101.41,477.37 L1101.46,477.37 L1101.55,477.38 L1101.69,477.4 L1101.83,477.42 L1101.97,477.43 L1102.11,477.45 L1102.25,477.46 L1102.32,477.47 L1102.39,477.48 L1102.53,477.49 L1102.67,477.51 L1102.81,477.52 L1102.95,477.54 L1103.09,477.55 L1103.19,477.56 L1103.23,477.57 L1103.37,477.58 L1103.51,477.59 L1103.64,477.61 L1103.78,477.62 L1103.92,477.63 L1104.05,477.64 L1104.06,477.65 L1104.2,477.66 L1104.34,477.67 L1104.48,477.68 L1104.62,477.7 L1104.76,477.71 L1104.9,477.72 L1104.92,477.72 L1105.04,477.73 L1105.18,477.74 L1105.32,477.76 L1105.46,477.77 L1105.6,477.78 L1105.74,477.79 L1105.78,477.79 L1105.88,477.8 L1106.02,477.81 L1106.16,477.82 L1106.3,477.83 L1106.44,477.84 L1106.58,477.85 L1106.64,477.86 L1106.72,477.86 L1106.86,477.87 L1107,477.88 L1107.14,477.89 L1107.28,477.9 L1107.51,477.92 L1108.37,477.98 L1109.24,478.03 L1110.1,478.08 L1110.96,478.13 L1111.83,478.17 L1112.69,478.21 L1113.55,478.25 L1114.42,478.29 L1115.28,478.32 L1116.15,478.35 L1117.01,478.38 L1117.87,478.41 L1118.74,478.44 L1119.6,478.46 L1120.47,478.49 L1121.33,478.51 L1122.19,478.53 L1123.06,478.55 L1123.92,478.57 L1124.79,478.59 L1125.65,478.61 L1126.51,478.63 L1127.38,478.64 L1128.24,478.66 L1129.1,478.67 L1129.97,478.69 L1130.83,478.7 L1131.7,478.71 L1132.56,478.73 L1133.42,478.74 L1134.29,478.75 L1135.15,478.76 L1136.02,478.77 L1136.88,478.78 L1137.74,478.79 L1138.61,478.8 L1139.47,478.81 L1140.33,478.82 L1141.2,478.83 L1142.06,478.84 L1142.93,478.84 L1143.79,478.85 L1144.65,478.86 L1145.52,478.87 L1146.38,478.87 L1147.25,478.88 L1148.11,478.89 L1148.97,478.89 L1149.84,478.9 L1150.7,478.9 L1151.57,478.91 L1152.43,478.91 L1153.29,478.92 L1154.16,478.92 L1155.02,478.93 L1155.88,478.93 L1156.75,478.94 L1157.61,478.94 L1158.48,478.95 L1159.34,478.95 L1160.2,478.96 L1161.07,478.96 L1161.93,478.96 L1162.8,478.97 L1163.66,478.97 L1164.52,478.97 L1165.39,478.98 L1166.25,478.98 L1167.12,478.98 L1167.98,478.99 L1168.84,478.99 L1169.71,478.99 L1170.57,479 L1171.43,479 L1172.3,479 L1173.16,479 L1174.03,479.01 L1174.89,479.01 L1175.75,479.01 L1176.62,479.01 L1177.48,479.02 L1178.35,479.02 L1179.21,479.02 L1180.07,479.02 L1180.94,479.03 L1181.8,479.03 L1182.66,479.03 L1183.53,479.03 L1184.39,479.03 L1185.26,479.04 L1186.12,479.04 L1186.98,479.04 L1187.85,479.04 L1188.71,479.04 L1189.58,479.05 L1190.44,479.05 L1191.3,479.05 L1192.17,479.05 L1193.03,479.05 L1193.9,479.05 L1194.76,479.05 L1195.62,479.06 L1196.49,479.06 L1197.35,479.06 L1198.21,479.06 L1199.08,479.06 L1199.94,479.06 L1200.81,479.06 L1201.67,479.07 L1202.53,479.07 L1203.4,479.07 L1204.26,479.07 L1205.13,479.07 L1205.99,479.07 L1206.85,479.07 L1207.72,479.07 L1208.58,479.08 L1209.45,479.08 L1210.31,479.08 L1211.17,479.08 L1212.04,479.08 L1212.9,479.08 L1213.76,479.08 L1214.63,479.08 L1215.49,479.08 L1216.36,479.08 L1217.22,479.09 L1218.08,479.09 L1218.95,479.09 L1219.81,479.09 L1220.68,479.09 L1221.54,479.09 L1222.4,479.09 L1223.27,479.09 L1224.13,479.09 L1224.99,479.09 L1225.86,479.09 L1226.72,479.09 L1227.59,479.1 L1228.45,479.1 L1229.31,479.1 L1230.18,479.1 L1231.04,479.1 L1231.91,479.1 L1232.77,479.1 L1233.63,479.1 L1234.5,479.1 L1235.36,479.1 L1236.23,479.1 L1237.09,479.1 L1237.95,479.1 L1238.82,479.1 L1239.68,479.1 L1240.54,479.11 L1241.41,479.11 L1242.27,479.11 L1243.14,479.11 L1244,479.11 L1244.86,479.11 L1245.73,479.11 L1246.59,479.11 L1247.46,479.11 L1248.32,479.11 L1249.18,479.11 L1250.05,479.11 L1250.91,479.11 L1251.78,479.11 L1252.64,479.11 L1253.5,479.11 L1254.37,479.11 L1255.23,479.11 L1256.09,479.11 L1256.96,479.11 L1257.82,479.12 L1258.69,479.12 L1259.55,479.12 L1260.41,479.12 L1261.28,479.12 L1262.14,479.12 L1263.01,479.12 L1263.87,479.12 L1264.73,479.12 L1265.6,479.12 L1266.46,479.12 L1267.32,479.12 L1268.19,479.12 L1269.05,479.12 L1269.92,479.12 L1270.78,479.12 L1271.64,479.12 L1272.51,479.12 L1273.37,479.12 L1274.24,479.12 L1275.1,479.12 L1275.96,479.12 L1276.83,479.12 L1277.69,479.12 L1278.56,479.12 L1279.42,479.12 L1280.28,479.12 L1281.15,479.12 L1282.01,479.13 L1282.87,479.13 L1283.74,479.13 L1284.6,479.13 L1285.47,479.13 L1286.33,479.13 L1287.19,479.13 L1288.06,479.13 L1288.92,479.13 L1289.79,479.13 L1290.65,479.13 L1291.51,479.13 L1292.38,479.13 L1293.24,479.13 L1294.11,479.13 L1294.97,479.13 L1295.83,479.13 L1296.7,479.13 L1297.56,479.13 L1298.42,479.13 L1299.29,479.13 L1300.15,479.13 L1301.02,479.13 L1301.88,479.13 L1302.74,479.13 L1303.61,479.13 L1304.47,479.13 L1305.34,479.13 L1306.2,479.13 L1307.06,479.13 L1307.93,479.13 L1308.79,479.13 L1309.65,479.13 L1310.52,479.13 L1311.38,479.13 L1312.25,479.13 L1313.11,479.13 L1313.97,479.13 L1314.84,479.13 L1315.7,479.13 L1316.57,479.13 L1317.43,479.14 L1318.29,479.14 L1319.16,479.14 L1320.02,479.14 L1320.89,479.14 L1321.75,479.14 L1322.61,479.14 L1323.48,479.14 L1324.34,479.14 L1325.2,479.14 L1326.07,479.14 L1326.93,479.14 L1327.8,479.14 L1328.66,479.14 L1329.52,479.14 L1330.39,479.14 L1331.25,479.14 L1332.12,479.14 L1332.98,479.14 L1333.84,479.14 L1334.71,479.14 L1335.57,479.14 L1336.43,479.14 L1337.3,479.14 L1338.16,479.14 L1339.03,479.14 L1339.89,479.14 L1340.75,479.14 L1341.62,479.14 L1342.48,479.14 L1343.35,479.14 L1344.21,479.14 L1345.07,479.14 L1345.94,479.14 L1346.8,479.14 L1347.67,479.14 L1348.53,479.14 L1349.39,479.14 L1350.26,479.14 L1351.12,479.14 L1351.98,479.14 L1352.85,479.14 L1353.71,479.14 L1354.58,479.14 L1355.44,479.14 L1356.3,479.14 L1357.17,479.14 L1358.03,479.14 L1358.9,479.14 L1359.76,479.14 L1360.62,479.14 L1361.49,479.14 L1362.35,479.14 L1363.22,479.14 L1364.08,479.14 L1364.94,479.14 L1365.81,479.14 L1366.67,479.14 L1367.53,479.14 L1368.4,479.14 L1369.26,479.14 L1370.13,479.14 L1370.99,479.14 L1371.85,479.14 L1372.72,479.14 L1373.58,479.14 L1374.45,479.14 L1375.31,479.14 L1376.17,479.14 L1377.04,479.14 L1377.9,479.14 L1378.76,479.14 L1379.63,479.14 L1380.49,479.14 L1381.36,479.15 L1382.22,479.15 L1383.08,479.15 L1383.95,479.15 L1384.81,479.15 L1385.68,479.15 L1386.54,479.15 L1387.4,479.15 L1388.27,479.15 L1389.13,479.15 L1390,479.15 L1390.86,479.15 L1391.72,479.15 L1392.59,479.15 L1393.45,479.15 L1394.31,479.15 L1395.18,479.15 L1396.04,479.15 L1396.91,479.15 L1397.77,479.15 L1398.63,479.15 L1399.5,479.15 L1400.36,479.15 L1401.23,479.15 L1402.09,479.15 L1402.95,479.15 L1403.82,479.15 L1404.68,479.15 L1405.55,479.15 L1406.41,479.15 L1407.27,479.15 L1408.14,479.15 L1409,479.15 L1409.86,479.15 L1410.73,479.15 L1411.59,479.15 L1412.46,479.15 L1413.32,479.15 L1414.18,479.15 L1415.05,479.15 L1415.91,479.15 L1416.78,479.15 L1417.64,479.15 L1418.5,479.15 L1419.37,479.15 L1420.23,479.15 L1421.09,479.15 L1421.96,479.15 L1422.82,479.15 L1423.69,479.15 L1424.55,479.15 L1425.41,479.15 L1426.28,479.15 L1427.14,479.15 L1428.01,479.15 L1428.87,479.15 L1429.73,479.15 L1430.6,479.15 L1431.46,479.15 L1432.33,479.15 L1433.19,479.15 L1434.05,479.15 L1434.92,479.15 L1435.78,479.15 L1436.64,479.15 L1437.51,479.15 L1438.37,479.15 L1439.24,479.15 L1440.1,479.15 L1440.96,479.15 L1441.83,479.15 L1442.69,479.15 L1443.56,479.15 L1444.42,479.15 L1445.28,479.15 L1446.15,479.15 L1447.01,479.15 L1447.88,479.15 L1448.74,479.15 L1449.6,479.15 L1450.47,479.15 L1451.33,479.15 L1452.19,479.15 L1453.06,479.15 L1453.92,479.15 L1454.79,479.15 L1455.65,479.15" stroke="#000" stroke-width="4.3" stroke-dasharray="17.5 18.3" stroke-dashoffset="33.83"/>
</g>
<text x="103.23" y="64.1" font-size="37" fill="#262626" font-family="Liberation Sans, sans-serif">0</text>
<text x="70.33" y="146.53" font-size="37" fill="#262626" font-family="Liberation Sans, sans-serif">-</text><text x="82.66" y="146.53" font-size="37" fill="#262626" font-family="Liberation Sans, sans-serif">2</text><text x="103.23" y="146.53" font-size="37" fill="#262626" font-family="Liberation Sans, sans-serif">0</text>
<text x="70.33" y="228.97" font-size="37" fill="#262626" font-family="Liberation Sans, sans-serif">-</text><text x="82.66" y="228.97" font-size="37" fill="#262626" font-family="Liberation Sans, sans-serif">4</text><text x="103.23" y="228.97" font-size="37" fill="#262626" font-family="Liberation Sans, sans-serif">0</text>
<text x="70.33" y="311.4" font-size="37" fill="#262626" font-family="Liberation Sans, sans-serif">-</text><text x="82.66" y="311.4" font-size="37" fill="#262626" font-family="Liberation Sans, sans-serif">6</text><text x="103.23" y="311.4" font-size="37" fill="#262626" font-family="Liberation Sans, sans-serif">0</text>
<text x="70.33" y="393.84" font-size="37" fill="#262626" font-family="Liberation Sans, sans-serif">-</text><text x="82.66" y="393.84" font-size="37" fill="#262626" font-family="Liberation Sans, sans-serif">8</text><text x="103.23" y="393.84" font-size="37" fill="#262626" font-family="Liberation Sans, sans-serif">0</text>
<text x="49.76" y="476.27" font-size="37" fill="#262626" font-family="Liberation Sans, sans-serif">-</text><path transform="translate(62.08,476.27) scale(37,-37)" d="M0.372,0L0.284,0L0.284,0.560C0.263,0.540 0.235,0.520 0.200,0.499C0.165,0.478 0.133,0.463 0.106,0.452L0.106,0.537C0.155,0.560 0.198,0.588 0.235,0.621C0.272,0.654 0.298,0.686 0.313,0.716L0.372,0.716Z" fill="#262626"/><text x="82.66" y="476.27" font-size="37" fill="#262626" font-family="Liberation Sans, sans-serif">0</text><text x="103.23" y="476.27" font-size="37" fill="#262626" font-family="Liberation Sans, sans-serif">0</text>
<text x="193.87" y="542" font-size="37.8" fill="#262626" font-family="Liberation Sans, sans-serif">5</text><text x="214.89" y="542" font-size="37.8" fill="#262626" font-family="Liberation Sans, sans-serif">0</text><text x="235.91" y="542" font-size="37.8" fill="#262626" font-family="Liberation Sans, sans-serif">0</text>
<path transform="translate(413.57,542) scale(37.8,-37.8)" d="M0.372,0L0.284,0L0.284,0.560C0.263,0.540 0.235,0.520 0.200,0.499C0.165,0.478 0.133,0.463 0.106,0.452L0.106,0.537C0.155,0.560 0.198,0.588 0.235,0.621C0.272,0.654 0.298,0.686 0.313,0.716L0.372,0.716Z" fill="#262626"/><text x="434.58" y="542" font-size="37.8" fill="#262626" font-family="Liberation Sans, sans-serif">0</text><text x="455.6" y="542" font-size="37.8" fill="#262626" font-family="Liberation Sans, sans-serif">0</text><text x="476.62" y="542" font-size="37.8" fill="#262626" font-family="Liberation Sans, sans-serif">0</text>
<path transform="translate(642.27,542) scale(37.8,-37.8)" d="M0.372,0L0.284,0L0.284,0.560C0.263,0.540 0.235,0.520 0.200,0.499C0.165,0.478 0.133,0.463 0.106,0.452L0.106,0.537C0.155,0.560 0.198,0.588 0.235,0.621C0.272,0.654 0.298,0.686 0.313,0.716L0.372,0.716Z" fill="#262626"/><text x="663.28" y="542" font-size="37.8" fill="#262626" font-family="Liberation Sans, sans-serif">5</text><text x="684.3" y="542" font-size="37.8" fill="#262626" font-family="Liberation Sans, sans-serif">0</text><text x="705.32" y="542" font-size="37.8" fill="#262626" font-family="Liberation Sans, sans-serif">0</text>
<text x="432.4" y="592.8" font-size="41.3" text-anchor="middle" fill="#262626" font-family="Liberation Sans, sans-serif" >Wavelength(nm)</text>
<text transform="translate(36.3,270.9) rotate(-90)" font-size="41.3" text-anchor="middle" fill="#262626" font-family="Liberation Sans, sans-serif">Magnitude(dB)</text>
<text x="821.34" y="494.2" font-size="35" fill="#262626" font-family="Liberation Sans, sans-serif">0</text>
<path transform="translate(821.34,314.45) scale(35,-35)" d="M0.372,0L0.284,0L0.284,0.560C0.263,0.540 0.235,0.520 0.200,0.499C0.165,0.478 0.133,0.463 0.106,0.452L0.106,0.537C0.155,0.560 0.198,0.588 0.235,0.621C0.272,0.654 0.298,0.686 0.313,0.716L0.372,0.716Z" fill="#262626"/>
<text x="821.34" y="134.7" font-size="35" fill="#262626" font-family="Liberation Sans, sans-serif">2</text>
<text x="868.64" y="544.8" font-size="35.5" fill="#262626" font-family="Liberation Sans, sans-serif">4</text><text x="888.38" y="544.8" font-size="35.5" fill="#262626" font-family="Liberation Sans, sans-serif">0</text><text x="908.12" y="544.8" font-size="35.5" fill="#262626" font-family="Liberation Sans, sans-serif">0</text>
<text x="961.54" y="544.8" font-size="35.5" fill="#262626" font-family="Liberation Sans, sans-serif">6</text><text x="981.28" y="544.8" font-size="35.5" fill="#262626" font-family="Liberation Sans, sans-serif">0</text><text x="1001.02" y="544.8" font-size="35.5" fill="#262626" font-family="Liberation Sans, sans-serif">0</text>
<text x="1054.44" y="544.8" font-size="35.5" fill="#262626" font-family="Liberation Sans, sans-serif">8</text><text x="1074.18" y="544.8" font-size="35.5" fill="#262626" font-family="Liberation Sans, sans-serif">0</text><text x="1093.92" y="544.8" font-size="35.5" fill="#262626" font-family="Liberation Sans, sans-serif">0</text>
<path transform="translate(1137.47,544.8) scale(35.5,-35.5)" d="M0.372,0L0.284,0L0.284,0.560C0.263,0.540 0.235,0.520 0.200,0.499C0.165,0.478 0.133,0.463 0.106,0.452L0.106,0.537C0.155,0.560 0.198,0.588 0.235,0.621C0.272,0.654 0.298,0.686 0.313,0.716L0.372,0.716Z" fill="#262626"/><text x="1157.21" y="544.8" font-size="35.5" fill="#262626" font-family="Liberation Sans, sans-serif">0</text><text x="1176.95" y="544.8" font-size="35.5" fill="#262626" font-family="Liberation Sans, sans-serif">0</text><text x="1196.69" y="544.8" font-size="35.5" fill="#262626" font-family="Liberation Sans, sans-serif">0</text>
<path transform="translate(1230.37,544.8) scale(35.5,-35.5)" d="M0.372,0L0.284,0L0.284,0.560C0.263,0.540 0.235,0.520 0.200,0.499C0.165,0.478 0.133,0.463 0.106,0.452L0.106,0.537C0.155,0.560 0.198,0.588 0.235,0.621C0.272,0.654 0.298,0.686 0.313,0.716L0.372,0.716Z" fill="#262626"/><text x="1250.11" y="544.8" font-size="35.5" fill="#262626" font-family="Liberation Sans, sans-serif">2</text><text x="1269.85" y="544.8" font-size="35.5" fill="#262626" font-family="Liberation Sans, sans-serif">0</text><text x="1289.59" y="544.8" font-size="35.5" fill="#262626" font-family="Liberation Sans, sans-serif">0</text>
<path transform="translate(1323.27,544.8) scale(35.5,-35.5)" d="M0.372,0L0.284,0L0.284,0.560C0.263,0.540 0.235,0.520 0.200,0.499C0.165,0.478 0.133,0.463 0.106,0.452L0.106,0.537C0.155,0.560 0.198,0.588 0.235,0.621C0.272,0.654 0.298,0.686 0.313,0.716L0.372,0.716Z" fill="#262626"/><text x="1343.01" y="544.8" font-size="35.5" fill="#262626" font-family="Liberation Sans, sans-serif">4</text><text x="1362.75" y="544.8" font-size="35.5" fill="#262626" font-family="Liberation Sans, sans-serif">0</text><text x="1382.49" y="544.8" font-size="35.5" fill="#262626" font-family="Liberation Sans, sans-serif">0</text>
<path transform="translate(1416.17,544.8) scale(35.5,-35.5)" d="M0.372,0L0.284,0L0.284,0.560C0.263,0.540 0.235,0.520 0.200,0.499C0.165,0.478 0.133,0.463 0.106,0.452L0.106,0.537C0.155,0.560 0.198,0.588 0.235,0.621C0.272,0.654 0.298,0.686 0.313,0.716L0.372,0.716Z" fill="#262626"/><text x="1435.91" y="544.8" font-size="35.5" fill="#262626" font-family="Liberation Sans, sans-serif">6</text><text x="1455.65" y="544.8" font-size="35.5" fill="#262626" font-family="Liberation Sans, sans-serif">0</text><text x="1475.39" y="544.8" font-size="35.5" fill="#262626" font-family="Liberation Sans, sans-serif">0</text>
<text x="1154.5" y="593.6" font-size="39.4" text-anchor="middle" fill="#262626" font-family="Liberation Sans, sans-serif" >Wavelength(nm)</text>
<text transform="translate(808.2,291.1) rotate(-90)" font-size="39.7" text-anchor="middle" fill="#262626" font-family="Liberation Sans, sans-serif">Magnitude(Linear Value)</text>
<path d="M856.6,59.6L873.8,76.8M873.8,59.6L856.6,76.8" stroke="#262626" stroke-width="2.1" fill="none"/>
<path transform="translate(880.5,77) scale(35,-35)" d="M0.372,0L0.284,0L0.284,0.560C0.263,0.540 0.235,0.520 0.200,0.499C0.165,0.478 0.133,0.463 0.106,0.452L0.106,0.537C0.155,0.560 0.198,0.588 0.235,0.621C0.272,0.654 0.298,0.686 0.313,0.716L0.372,0.716Z" fill="#262626"/><text x="899.96" y="77" font-size="35" fill="#262626" font-family="Liberation Sans, sans-serif">0</text>
<text x="919" y="59.2" font-size="29" text-anchor="start" fill="#262626" font-family="Liberation Sans, sans-serif" >-4</text>
<text x="20.5" y="44.5" font-size="61" font-weight="bold" font-family="Liberation Serif, serif" fill="#000">(a)</text>
<text x="769.8" y="47.6" font-size="61" font-weight="bold" font-family="Liberation Serif, serif" fill="#000">(b)</text>
<rect x="543.3" y="167.2" width="156.6" height="170.6" fill="#fff" stroke="#8a8a8a" stroke-width="1.4"/>
<text x="585.5" y="203.8" font-size="34" fill="#000" font-family="Liberation Sans, sans-serif">S(E,E)</text>
<text x="585.5" y="245.9" font-size="34" fill="#000" font-family="Liberation Sans, sans-serif">S(M,M)</text>
<text x="585.5" y="288" font-size="34" fill="#000" font-family="Liberation Sans, sans-serif">S(E,M)</text>
<text x="585.5" y="330.1" font-size="34" fill="#000" font-family="Liberation Sans, sans-serif">S(M,E)</text>
<path d="M547.4,189.7H584.4" stroke="#000" stroke-width="4.3"/>
<path d="M547,231.8H565M583.8,231.8H585" stroke="#f00" stroke-width="4.3"/><circle cx="565.3" cy="231.8" r="5.6" fill="#f00"/>
<path d="M547,273.9H565.7M569.6,273.9H579.5M583.5,273.9H585" stroke="#000" stroke-width="4.3"/>
<path d="M547,316H565M583.8,316H585" stroke="#f00" stroke-width="4.3"/><path d="M558.05,320.43L565.2,307.13L572.35,320.43Z" fill="#f00"/>
<rect x="1258.1" y="160.3" width="161.6" height="83.8" fill="#fff" stroke="#8a8a8a" stroke-width="1.4"/>
<text x="1299.9" y="195.3" font-size="32.5" fill="#000" font-family="Liberation Sans, sans-serif">PCR(E)</text>
<text x="1299.9" y="236.7" font-size="32.5" fill="#000" font-family="Liberation Sans, sans-serif">PCR(M)</text>
<path d="M1262.6,182.2H1297.9" stroke="#f00" stroke-width="4.3"/><path d="M1274,178.67L1279.5,189.27L1285,178.67Z" fill="#f00"/>
<path d="M1262.6,222.4H1279" stroke="#000" stroke-width="4.3"/>
</svg>
</body></html>
